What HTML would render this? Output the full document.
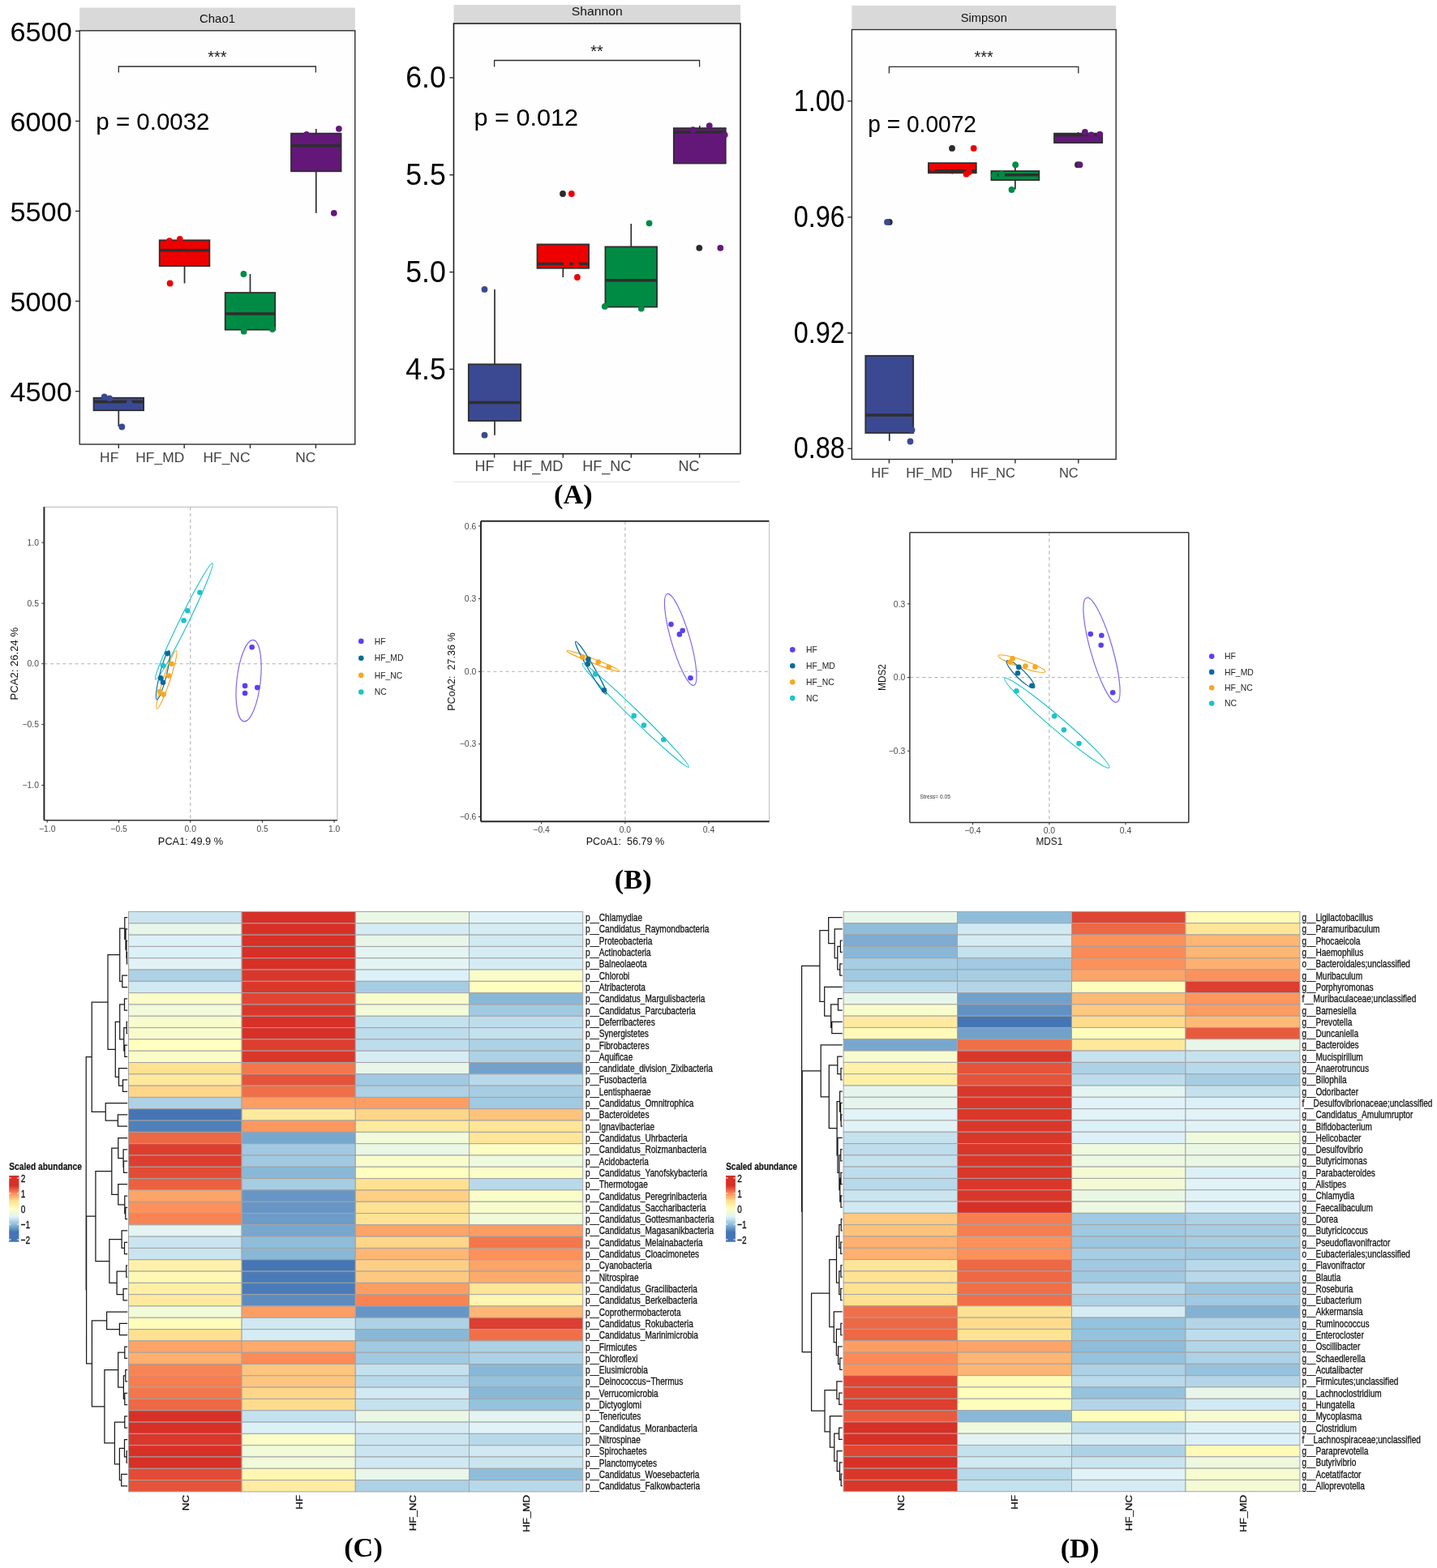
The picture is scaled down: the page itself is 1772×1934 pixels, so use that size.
<!DOCTYPE html>
<html lang="en"><head><meta charset="utf-8"><title>Figure</title>
<style>
html,body{margin:0;padding:0;background:#fff}
body{width:1772px;height:1934px;overflow:hidden}
svg{display:block}
text{font-family:"Liberation Sans",sans-serif;white-space:pre}
text.b{font-weight:bold}
text.s{font-family:"Liberation Serif",serif}
</style></head><body>
<svg width="1772" height="1934" viewBox="0 0 1772 1934">
<rect width="1772" height="1934" fill="#fff"/>
<g>
<rect x="98.2" y="9.5" width="339.6" height="27.7" fill="#d9d9d9"/>
<text transform="translate(268 28.25)" x="-22" font-size="15" textLength="44" lengthAdjust="spacingAndGlyphs" fill="#111">Chao1</text>
<rect x="98.2" y="37.8" width="339.6" height="510.2" fill="#fefefe" stroke="#2e2e2e" stroke-width="1.4"/>
<line x1="93" y1="38.3" x2="98.2" y2="38.3" stroke="#2e2e2e" stroke-width="1.4"/>
<text transform="translate(88.7 50.6)" x="-76.32" font-size="33.8" textLength="76.32" lengthAdjust="spacingAndGlyphs">6500</text>
<line x1="93" y1="149.4" x2="98.2" y2="149.4" stroke="#2e2e2e" stroke-width="1.4"/>
<text transform="translate(88.7 161.7)" x="-76.32" font-size="33.8" textLength="76.32" lengthAdjust="spacingAndGlyphs">6000</text>
<line x1="93" y1="260.4" x2="98.2" y2="260.4" stroke="#2e2e2e" stroke-width="1.4"/>
<text transform="translate(88.7 272.7)" x="-76.32" font-size="33.8" textLength="76.32" lengthAdjust="spacingAndGlyphs">5500</text>
<line x1="93" y1="371.5" x2="98.2" y2="371.5" stroke="#2e2e2e" stroke-width="1.4"/>
<text transform="translate(88.7 383.8)" x="-76.32" font-size="33.8" textLength="76.32" lengthAdjust="spacingAndGlyphs">5000</text>
<line x1="93" y1="482.6" x2="98.2" y2="482.6" stroke="#2e2e2e" stroke-width="1.4"/>
<text transform="translate(88.7 494.9)" x="-76.32" font-size="33.8" textLength="76.32" lengthAdjust="spacingAndGlyphs">4500</text>
<line x1="146.3" y1="548" x2="146.3" y2="553" stroke="#2e2e2e" stroke-width="1.4"/>
<text transform="translate(146.3 570.3)" x="-23.2" font-size="17.4" textLength="23.2" lengthAdjust="spacingAndGlyphs" fill="#424242">HF</text>
<line x1="227.2" y1="548" x2="227.2" y2="553" stroke="#2e2e2e" stroke-width="1.4"/>
<text transform="translate(227.2 570.3)" x="-59.93" font-size="17.4" textLength="59.93" lengthAdjust="spacingAndGlyphs" fill="#424242">HF_MD</text>
<line x1="308.5" y1="548" x2="308.5" y2="553" stroke="#2e2e2e" stroke-width="1.4"/>
<text transform="translate(308.5 570.3)" x="-58" font-size="17.4" textLength="58" lengthAdjust="spacingAndGlyphs" fill="#424242">HF_NC</text>
<line x1="389.4" y1="548" x2="389.4" y2="553" stroke="#2e2e2e" stroke-width="1.4"/>
<text transform="translate(389.4 570.3)" x="-25.13" font-size="17.4" textLength="25.13" lengthAdjust="spacingAndGlyphs" fill="#424242">NC</text>
<path d="M146.3 89.5 V82 H389.4 V89.5" fill="none" stroke="#2e2e2e" stroke-width="1.3"/>
<text transform="translate(267.85 77.2)" x="-11.67" font-size="20" fill="#1a1a1a">***</text>
<text transform="translate(118.3 160.2)" x="0" font-size="29.5" textLength="140.2" lengthAdjust="spacingAndGlyphs">p = 0.0032</text>
<line x1="146.3" y1="506.2" x2="146.3" y2="525.9" stroke="#2e2e2e" stroke-width="1.7"/>
<line x1="227.55" y1="328.1" x2="227.55" y2="349.5" stroke="#2e2e2e" stroke-width="1.7"/>
<line x1="308.5" y1="338" x2="308.5" y2="361" stroke="#2e2e2e" stroke-width="1.7"/>
<line x1="389.8" y1="159" x2="389.8" y2="164.6" stroke="#2e2e2e" stroke-width="1.7"/>
<line x1="389.8" y1="211.3" x2="389.8" y2="262.8" stroke="#2e2e2e" stroke-width="1.7"/>
<rect x="115.5" y="490.7" width="61.6" height="15.5" fill="#3b4992" stroke="#2e2e2e" stroke-width="1.75"/>
<line x1="115.5" y1="495.4" x2="177.1" y2="495.4" stroke="#2e2e2e" stroke-width="3.5"/>
<rect x="196.7" y="296.3" width="61.7" height="31.8" fill="#ee0000" stroke="#2e2e2e" stroke-width="1.75"/>
<line x1="196.7" y1="308.8" x2="258.4" y2="308.8" stroke="#2e2e2e" stroke-width="3.5"/>
<rect x="277.7" y="361" width="61.6" height="45.7" fill="#008b45" stroke="#2e2e2e" stroke-width="1.75"/>
<line x1="277.7" y1="387" x2="339.3" y2="387" stroke="#2e2e2e" stroke-width="3.5"/>
<rect x="359" y="164.6" width="61.6" height="46.7" fill="#631879" stroke="#2e2e2e" stroke-width="1.75"/>
<line x1="359" y1="179.8" x2="420.6" y2="179.8" stroke="#2e2e2e" stroke-width="3.5"/>
<circle cx="128.7" cy="489.3" r="3.9" fill="#3b4992"/>
<circle cx="135.1" cy="491.3" r="3.9" fill="#3b4992"/>
<circle cx="159.5" cy="497.5" r="3.9" fill="#3b4992"/>
<circle cx="150.3" cy="526.5" r="3.9" fill="#3b4992"/>
<circle cx="208.9" cy="297.2" r="3.9" fill="#ee0000"/>
<circle cx="221.8" cy="295" r="3.9" fill="#ee0000"/>
<circle cx="209.6" cy="349.5" r="3.9" fill="#ee0000"/>
<circle cx="300.4" cy="338" r="3.9" fill="#008b45"/>
<circle cx="300.7" cy="408.7" r="3.9" fill="#008b45"/>
<circle cx="335.9" cy="406" r="3.9" fill="#008b45"/>
<circle cx="378" cy="166" r="3.9" fill="#631879"/>
<circle cx="417.9" cy="158.8" r="3.9" fill="#631879"/>
<circle cx="411.8" cy="262.8" r="3.9" fill="#631879"/>
</g>
<g>
<rect x="559.5" y="6" width="353.5" height="22" fill="#d9d9d9"/>
<text transform="translate(736.25 18.9)" x="-31.5" font-size="15" textLength="63" lengthAdjust="spacingAndGlyphs" fill="#111">Shannon</text>
<rect x="559.5" y="29" width="353.5" height="530.7" fill="#fefefe" stroke="#1c1c1c" stroke-width="1.6"/>
<line x1="554.3" y1="95.8" x2="559.5" y2="95.8" stroke="#2e2e2e" stroke-width="1.4"/>
<text transform="translate(549.8 108.1)" x="-49.57" font-size="36.2" textLength="49.57" lengthAdjust="spacingAndGlyphs">6.0</text>
<line x1="554.3" y1="215.7" x2="559.5" y2="215.7" stroke="#2e2e2e" stroke-width="1.4"/>
<text transform="translate(549.8 228)" x="-49.57" font-size="36.2" textLength="49.57" lengthAdjust="spacingAndGlyphs">5.5</text>
<line x1="554.3" y1="335.6" x2="559.5" y2="335.6" stroke="#2e2e2e" stroke-width="1.4"/>
<text transform="translate(549.8 347.9)" x="-49.57" font-size="36.2" textLength="49.57" lengthAdjust="spacingAndGlyphs">5.0</text>
<line x1="554.3" y1="455.4" x2="559.5" y2="455.4" stroke="#2e2e2e" stroke-width="1.4"/>
<text transform="translate(549.8 467.7)" x="-49.57" font-size="36.2" textLength="49.57" lengthAdjust="spacingAndGlyphs">4.5</text>
<line x1="609.6" y1="559.7" x2="609.6" y2="564.7" stroke="#2e2e2e" stroke-width="1.4"/>
<text transform="translate(609.6 581)" x="-23.99" font-size="18" textLength="23.99" lengthAdjust="spacingAndGlyphs" fill="#424242">HF</text>
<line x1="694.3" y1="559.7" x2="694.3" y2="564.7" stroke="#2e2e2e" stroke-width="1.4"/>
<text transform="translate(694.3 581)" x="-62" font-size="18" textLength="62" lengthAdjust="spacingAndGlyphs" fill="#424242">HF_MD</text>
<line x1="778.3" y1="559.7" x2="778.3" y2="564.7" stroke="#2e2e2e" stroke-width="1.4"/>
<text transform="translate(778.3 581)" x="-60" font-size="18" textLength="60" lengthAdjust="spacingAndGlyphs" fill="#424242">HF_NC</text>
<line x1="862.6" y1="559.7" x2="862.6" y2="564.7" stroke="#2e2e2e" stroke-width="1.4"/>
<text transform="translate(862.6 581)" x="-26" font-size="18" textLength="26" lengthAdjust="spacingAndGlyphs" fill="#424242">NC</text>
<path d="M609.6 82.6 V74.5 H862.6 V82.6" fill="none" stroke="#2e2e2e" stroke-width="1.3"/>
<text transform="translate(736.1 70.3)" x="-7.78" font-size="20" fill="#1a1a1a">**</text>
<text transform="translate(584.5 154.7)" x="0" font-size="29.5" textLength="128.6" lengthAdjust="spacingAndGlyphs">p = 0.012</text>
<line x1="610" y1="356.9" x2="610" y2="449.3" stroke="#2e2e2e" stroke-width="1.7"/>
<line x1="610" y1="519.1" x2="610" y2="536.7" stroke="#2e2e2e" stroke-width="1.7"/>
<line x1="694.3" y1="330.8" x2="694.3" y2="342" stroke="#2e2e2e" stroke-width="1.7"/>
<line x1="778.25" y1="276" x2="778.25" y2="304.4" stroke="#2e2e2e" stroke-width="1.7"/>
<line x1="862.8" y1="155" x2="862.8" y2="158.1" stroke="#2e2e2e" stroke-width="1.7"/>
<rect x="577.8" y="449.3" width="64.4" height="69.8" fill="#3b4992" stroke="#2e2e2e" stroke-width="1.75"/>
<line x1="577.8" y1="496.4" x2="642.2" y2="496.4" stroke="#2e2e2e" stroke-width="3.5"/>
<rect x="662.5" y="301.4" width="63.6" height="29.4" fill="#ee0000" stroke="#2e2e2e" stroke-width="1.75"/>
<line x1="662.5" y1="325.4" x2="726.1" y2="325.4" stroke="#2e2e2e" stroke-width="3.5"/>
<rect x="746.4" y="304.4" width="63.7" height="74.2" fill="#008b45" stroke="#2e2e2e" stroke-width="1.75"/>
<line x1="746.4" y1="345.7" x2="810.1" y2="345.7" stroke="#2e2e2e" stroke-width="3.5"/>
<rect x="830.8" y="158.1" width="64" height="43.4" fill="#631879" stroke="#2e2e2e" stroke-width="1.75"/>
<line x1="830.8" y1="162.9" x2="894.8" y2="162.9" stroke="#2e2e2e" stroke-width="3.5"/>
<circle cx="597.5" cy="356.9" r="3.9" fill="#3b4992"/>
<circle cx="597.5" cy="536.7" r="3.9" fill="#3b4992"/>
<circle cx="694" cy="239" r="3.9" fill="#2b2b2b"/>
<circle cx="704.8" cy="239" r="3.9" fill="#ee0000"/>
<circle cx="698.7" cy="325.4" r="3.9" fill="#ee0000"/>
<circle cx="710.6" cy="326.8" r="3.9" fill="#ee0000"/>
<circle cx="711.9" cy="342" r="3.9" fill="#ee0000"/>
<circle cx="800.6" cy="275.3" r="3.9" fill="#008b45"/>
<circle cx="745.8" cy="377.9" r="3.9" fill="#008b45"/>
<circle cx="790.8" cy="380.6" r="3.9" fill="#008b45"/>
<circle cx="854.5" cy="160.2" r="3.9" fill="#631879"/>
<circle cx="874.8" cy="155.1" r="3.9" fill="#631879"/>
<circle cx="893.7" cy="166.3" r="3.9" fill="#631879"/>
<circle cx="862.3" cy="305.8" r="3.9" fill="#2b2b2b"/>
<circle cx="888.3" cy="305.8" r="3.9" fill="#631879"/>
</g>
<g>
<rect x="1050.4" y="6.8" width="325.8" height="28.7" fill="#d9d9d9"/>
<text transform="translate(1213.3 27.35)" x="-28.5" font-size="15" textLength="57" lengthAdjust="spacingAndGlyphs" fill="#111">Simpson</text>
<rect x="1050.4" y="36.5" width="325.8" height="530" fill="#fefefe" stroke="#2e2e2e" stroke-width="1.4"/>
<line x1="1045.2" y1="124.7" x2="1050.4" y2="124.7" stroke="#2e2e2e" stroke-width="1.4"/>
<text transform="translate(1041.8 136.7)" x="-63.06" font-size="36" textLength="63.06" lengthAdjust="spacingAndGlyphs">1.00</text>
<line x1="1045.2" y1="267.9" x2="1050.4" y2="267.9" stroke="#2e2e2e" stroke-width="1.4"/>
<text transform="translate(1041.8 279.9)" x="-63.06" font-size="36" textLength="63.06" lengthAdjust="spacingAndGlyphs">0.96</text>
<line x1="1045.2" y1="410.8" x2="1050.4" y2="410.8" stroke="#2e2e2e" stroke-width="1.4"/>
<text transform="translate(1041.8 422.8)" x="-63.06" font-size="36" textLength="63.06" lengthAdjust="spacingAndGlyphs">0.92</text>
<line x1="1045.2" y1="553.3" x2="1050.4" y2="553.3" stroke="#2e2e2e" stroke-width="1.4"/>
<text transform="translate(1041.8 565.3)" x="-63.06" font-size="36" textLength="63.06" lengthAdjust="spacingAndGlyphs">0.88</text>
<line x1="1096.4" y1="566.5" x2="1096.4" y2="571.5" stroke="#2e2e2e" stroke-width="1.4"/>
<text transform="translate(1096.4 588.8)" x="-22.04" font-size="17.4" textLength="22.04" lengthAdjust="spacingAndGlyphs" fill="#424242">HF</text>
<line x1="1174.3" y1="566.5" x2="1174.3" y2="571.5" stroke="#2e2e2e" stroke-width="1.4"/>
<text transform="translate(1174.3 588.8)" x="-56.94" font-size="17.4" textLength="56.94" lengthAdjust="spacingAndGlyphs" fill="#424242">HF_MD</text>
<line x1="1251.9" y1="566.5" x2="1251.9" y2="571.5" stroke="#2e2e2e" stroke-width="1.4"/>
<text transform="translate(1251.9 588.8)" x="-55.1" font-size="17.4" textLength="55.1" lengthAdjust="spacingAndGlyphs" fill="#424242">HF_NC</text>
<line x1="1329.8" y1="566.5" x2="1329.8" y2="571.5" stroke="#2e2e2e" stroke-width="1.4"/>
<text transform="translate(1329.8 588.8)" x="-23.88" font-size="17.4" textLength="23.88" lengthAdjust="spacingAndGlyphs" fill="#424242">NC</text>
<path d="M1096.4 90.4 V82.3 H1329.8 V90.4" fill="none" stroke="#2e2e2e" stroke-width="1.3"/>
<text transform="translate(1213.1 76.8)" x="-11.67" font-size="20" fill="#1a1a1a">***</text>
<text transform="translate(1070.2 162.5)" x="0" font-size="29.5" textLength="133.8" lengthAdjust="spacingAndGlyphs">p = 0.0072</text>
<line x1="1096.75" y1="534" x2="1096.75" y2="543.8" stroke="#2e2e2e" stroke-width="1.7"/>
<line x1="1174.35" y1="213.3" x2="1174.35" y2="214.5" stroke="#2e2e2e" stroke-width="1.7"/>
<line x1="1251.85" y1="203.2" x2="1251.85" y2="211" stroke="#2e2e2e" stroke-width="1.7"/>
<line x1="1251.85" y1="222.1" x2="1251.85" y2="233.6" stroke="#2e2e2e" stroke-width="1.7"/>
<line x1="1329.6" y1="163" x2="1329.6" y2="164.6" stroke="#2e2e2e" stroke-width="1.7"/>
<rect x="1067.3" y="438.8" width="58.9" height="95.2" fill="#3b4992" stroke="#2e2e2e" stroke-width="1.75"/>
<line x1="1067.3" y1="512" x2="1126.2" y2="512" stroke="#2e2e2e" stroke-width="3.5"/>
<rect x="1144.9" y="201.1" width="58.9" height="12.2" fill="#ee0000" stroke="#2e2e2e" stroke-width="1.75"/>
<line x1="1144.9" y1="210.8" x2="1203.8" y2="210.8" stroke="#2e2e2e" stroke-width="3.5"/>
<rect x="1222.4" y="211" width="58.9" height="11.1" fill="#008b45" stroke="#2e2e2e" stroke-width="1.75"/>
<line x1="1222.4" y1="215.7" x2="1281.3" y2="215.7" stroke="#2e2e2e" stroke-width="3.5"/>
<rect x="1300" y="164.6" width="59.2" height="11.5" fill="#631879" stroke="#2e2e2e" stroke-width="1.75"/>
<line x1="1300" y1="166.6" x2="1359.2" y2="166.6" stroke="#2e2e2e" stroke-width="3.5"/>
<circle cx="1096.8" cy="273.9" r="3.9" fill="#2b2b2b"/>
<circle cx="1094" cy="273.9" r="3.9" fill="#3b4992"/>
<circle cx="1124.5" cy="530.3" r="3.9" fill="#3b4992"/>
<circle cx="1122.5" cy="544.5" r="3.9" fill="#3b4992"/>
<circle cx="1174" cy="182.9" r="3.9" fill="#2b2b2b"/>
<circle cx="1200.7" cy="182.9" r="3.9" fill="#ee0000"/>
<circle cx="1150" cy="207" r="3.9" fill="#ee0000"/>
<circle cx="1191.6" cy="214.7" r="3.9" fill="#ee0000"/>
<circle cx="1194.6" cy="212.3" r="3.9" fill="#ee0000"/>
<circle cx="1252.2" cy="203.2" r="3.9" fill="#008b45"/>
<circle cx="1247.5" cy="234" r="3.9" fill="#008b45"/>
<circle cx="1226.1" cy="216.7" r="3.9" fill="#008b45"/>
<circle cx="1235.3" cy="214.7" r="3.9" fill="#008b45"/>
<circle cx="1337.9" cy="162.9" r="3.9" fill="#631879"/>
<circle cx="1345.7" cy="166.3" r="3.9" fill="#631879"/>
<circle cx="1356.2" cy="165.6" r="3.9" fill="#631879"/>
<circle cx="1329" cy="203.2" r="3.9" fill="#2b2b2b"/>
<circle cx="1331.5" cy="203.2" r="3.9" fill="#631879"/>
</g>
<line x1="559.5" y1="594.3" x2="913" y2="594.3" stroke="#e6e6e6" stroke-width="1.2"/>
<text transform="translate(706.8 620.7)" x="-23.81" font-size="34.3" class="b s">(A)</text>
<g>
<line x1="54.4" y1="818.7" x2="415.9" y2="818.7" stroke="#b3b3b3" stroke-width="1.1" stroke-dasharray="4.2 3.4"/>
<line x1="234.8" y1="625.3" x2="234.8" y2="1011.8" stroke="#b3b3b3" stroke-width="1.1" stroke-dasharray="4.2 3.4"/>
<line x1="54.4" y1="625.3" x2="415.9" y2="625.3" stroke="#c4c4c4" stroke-width="1.2"/>
<line x1="415.9" y1="625.3" x2="415.9" y2="1011.8" stroke="#c4c4c4" stroke-width="1.2"/>
<line x1="54.4" y1="1011.8" x2="415.9" y2="1011.8" stroke="#333333" stroke-width="1.5"/>
<line x1="54.4" y1="625.3" x2="54.4" y2="1011.8" stroke="#2a2a2a" stroke-width="2"/>
<line x1="51.4" y1="669.2" x2="54.4" y2="669.2" stroke="#2e2e2e" stroke-width="1"/>
<text transform="translate(48 672.9)" x="-14.46" font-size="10.4" fill="#4d4d4d">1.0</text>
<line x1="51.4" y1="744.1" x2="54.4" y2="744.1" stroke="#2e2e2e" stroke-width="1"/>
<text transform="translate(48 747.8)" x="-14.46" font-size="10.4" fill="#4d4d4d">0.5</text>
<line x1="51.4" y1="818.7" x2="54.4" y2="818.7" stroke="#2e2e2e" stroke-width="1"/>
<text transform="translate(48 822.4)" x="-14.46" font-size="10.4" fill="#4d4d4d">0.0</text>
<line x1="51.4" y1="893.6" x2="54.4" y2="893.6" stroke="#2e2e2e" stroke-width="1"/>
<text transform="translate(48 897.3)" x="-20.53" font-size="10.4" fill="#4d4d4d">−0.5</text>
<line x1="51.4" y1="968.5" x2="54.4" y2="968.5" stroke="#2e2e2e" stroke-width="1"/>
<text transform="translate(48 972.2)" x="-20.53" font-size="10.4" fill="#4d4d4d">−1.0</text>
<line x1="58.2" y1="1011.8" x2="58.2" y2="1014.8" stroke="#2e2e2e" stroke-width="1"/>
<text transform="translate(58.2 1026.3)" x="-10.27" font-size="10.4" fill="#4d4d4d">−1.0</text>
<line x1="146.6" y1="1011.8" x2="146.6" y2="1014.8" stroke="#2e2e2e" stroke-width="1"/>
<text transform="translate(146.6 1026.3)" x="-10.27" font-size="10.4" fill="#4d4d4d">−0.5</text>
<line x1="234.8" y1="1011.8" x2="234.8" y2="1014.8" stroke="#2e2e2e" stroke-width="1"/>
<text transform="translate(234.8 1026.3)" x="-7.23" font-size="10.4" fill="#4d4d4d">0.0</text>
<line x1="323.6" y1="1011.8" x2="323.6" y2="1014.8" stroke="#2e2e2e" stroke-width="1"/>
<text transform="translate(323.6 1026.3)" x="-7.23" font-size="10.4" fill="#4d4d4d">0.5</text>
<line x1="412.1" y1="1011.8" x2="412.1" y2="1014.8" stroke="#2e2e2e" stroke-width="1"/>
<text transform="translate(412.1 1026.3)" x="-7.23" font-size="10.4" fill="#4d4d4d">1.0</text>
<text transform="translate(235 1041.6)" x="-40.15" font-size="12.8" textLength="80.3" lengthAdjust="spacingAndGlyphs" fill="#111">PCA1: 49.9 %</text>
<text transform="translate(21.9 818.7) rotate(-90)" x="-44.7" font-size="12.8" textLength="89.4" lengthAdjust="spacingAndGlyphs" fill="#111">PCA2: 26.24 %</text>
<ellipse cx="0" cy="0" rx="79.7" ry="5.5" transform="translate(226.9 766.4) rotate(-63.9)" fill="none" stroke="#1fc2c9" stroke-width="1.15"/>
<ellipse cx="0" cy="0" rx="50.5" ry="14.6" transform="translate(306.6 839.6) rotate(-83.5)" fill="none" stroke="#7a63f2" stroke-width="1.15"/>
<ellipse cx="0" cy="0" rx="37.8" ry="4.2" transform="translate(205.4 838.4) rotate(-71.5)" fill="none" stroke="#f6a823" stroke-width="1.15"/>
<ellipse cx="0" cy="0" rx="31.1" ry="4.2" transform="translate(201 832.8) rotate(-75.9)" fill="none" stroke="#0b6b9a" stroke-width="1.15"/>
<circle cx="246.5" cy="730.8" r="3.3" fill="#1fc2c9"/>
<circle cx="231.3" cy="753.3" r="3.3" fill="#1fc2c9"/>
<circle cx="226.6" cy="765.3" r="3.3" fill="#1fc2c9"/>
<circle cx="201" cy="820.9" r="3.3" fill="#1fc2c9"/>
<circle cx="211.4" cy="818.7" r="3.3" fill="#f6a823"/>
<circle cx="208" cy="833.5" r="3.3" fill="#f6a823"/>
<circle cx="197.2" cy="853.1" r="3.3" fill="#f6a823"/>
<circle cx="201.6" cy="856.6" r="3.3" fill="#f6a823"/>
<circle cx="206.4" cy="806.1" r="3.3" fill="#0b6b9a"/>
<circle cx="198.2" cy="836.4" r="3.3" fill="#0b6b9a"/>
<circle cx="201" cy="841.8" r="3.3" fill="#0b6b9a"/>
<circle cx="310.7" cy="798.2" r="3.3" fill="#5b3ff0"/>
<circle cx="302.1" cy="845.9" r="3.3" fill="#5b3ff0"/>
<circle cx="317.3" cy="848.1" r="3.3" fill="#5b3ff0"/>
<circle cx="302.1" cy="855" r="3.3" fill="#5b3ff0"/>
<circle cx="445.3" cy="790.9" r="3.3" fill="#5b3ff0"/>
<text transform="translate(461.7 794.6)" x="0" font-size="10.4" fill="#222">HF</text>
<circle cx="445.3" cy="811.7" r="3.3" fill="#0b6b9a"/>
<text transform="translate(461.7 815.4)" x="0" font-size="10.4" fill="#222">HF_MD</text>
<circle cx="445.3" cy="832.9" r="3.3" fill="#f6a823"/>
<text transform="translate(461.7 836.6)" x="0" font-size="10.4" fill="#222">HF_NC</text>
<circle cx="445.3" cy="853.5" r="3.3" fill="#1fc2c9"/>
<text transform="translate(461.7 857.2)" x="0" font-size="10.4" fill="#222">NC</text>
</g>
<g>
<line x1="593" y1="828.3" x2="948.6" y2="828.3" stroke="#b3b3b3" stroke-width="1.1" stroke-dasharray="4.2 3.4"/>
<line x1="770.9" y1="642.8" x2="770.9" y2="1013.2" stroke="#b3b3b3" stroke-width="1.1" stroke-dasharray="4.2 3.4"/>
<line x1="593" y1="642.8" x2="948.6" y2="642.8" stroke="#2a2a2a" stroke-width="2"/>
<line x1="948.6" y1="642.8" x2="948.6" y2="1013.2" stroke="#c4c4c4" stroke-width="1.2"/>
<line x1="593" y1="1013.2" x2="948.6" y2="1013.2" stroke="#2a2a2a" stroke-width="2"/>
<line x1="593" y1="642.8" x2="593" y2="1013.2" stroke="#2a2a2a" stroke-width="2"/>
<line x1="590" y1="648.8" x2="593" y2="648.8" stroke="#2e2e2e" stroke-width="1"/>
<text transform="translate(587.3 652.5)" x="-14.46" font-size="10.4" fill="#4d4d4d">0.6</text>
<line x1="590" y1="738.5" x2="593" y2="738.5" stroke="#2e2e2e" stroke-width="1"/>
<text transform="translate(587.3 742.2)" x="-14.46" font-size="10.4" fill="#4d4d4d">0.3</text>
<line x1="590" y1="828.3" x2="593" y2="828.3" stroke="#2e2e2e" stroke-width="1"/>
<text transform="translate(587.3 832)" x="-14.46" font-size="10.4" fill="#4d4d4d">0.0</text>
<line x1="590" y1="917.7" x2="593" y2="917.7" stroke="#2e2e2e" stroke-width="1"/>
<text transform="translate(587.3 921.4)" x="-20.53" font-size="10.4" fill="#4d4d4d">−0.3</text>
<line x1="590" y1="1007.5" x2="593" y2="1007.5" stroke="#2e2e2e" stroke-width="1"/>
<text transform="translate(587.3 1011.2)" x="-20.53" font-size="10.4" fill="#4d4d4d">−0.6</text>
<line x1="667.6" y1="1013.2" x2="667.6" y2="1016.2" stroke="#2e2e2e" stroke-width="1"/>
<text transform="translate(667.6 1027.4)" x="-10.27" font-size="10.4" fill="#4d4d4d">−0.4</text>
<line x1="770.9" y1="1013.2" x2="770.9" y2="1016.2" stroke="#2e2e2e" stroke-width="1"/>
<text transform="translate(770.9 1027.4)" x="-7.23" font-size="10.4" fill="#4d4d4d">0.0</text>
<line x1="874" y1="1013.2" x2="874" y2="1016.2" stroke="#2e2e2e" stroke-width="1"/>
<text transform="translate(874 1027.4)" x="-7.23" font-size="10.4" fill="#4d4d4d">0.4</text>
<text transform="translate(770.9 1041.8)" x="-48.2" font-size="12.8" textLength="96.4" lengthAdjust="spacingAndGlyphs" fill="#111">PCoA1:  56.79 %</text>
<text transform="translate(561.2 828.6) rotate(-90)" x="-48.2" font-size="12.8" textLength="96.4" lengthAdjust="spacingAndGlyphs" fill="#111">PCoA2:  27.36 %</text>
<ellipse cx="0" cy="0" rx="58.7" ry="11.5" transform="translate(839.2 788.9) rotate(73.8)" fill="none" stroke="#7a63f2" stroke-width="1.15"/>
<ellipse cx="0" cy="0" rx="91.5" ry="5.6" transform="translate(783.7 882.3) rotate(44.2)" fill="none" stroke="#1fc2c9" stroke-width="1.15"/>
<ellipse cx="0" cy="0" rx="34.7" ry="2.6" transform="translate(731.3 815.2) rotate(21)" fill="none" stroke="#f6a823" stroke-width="1.15"/>
<ellipse cx="0" cy="0" rx="37.5" ry="3.6" transform="translate(728.7 823.7) rotate(59.8)" fill="none" stroke="#0b6b9a" stroke-width="1.15"/>
<circle cx="734.3" cy="831.4" r="3.3" fill="#1fc2c9"/>
<circle cx="781.7" cy="882.9" r="3.3" fill="#1fc2c9"/>
<circle cx="794" cy="894.6" r="3.3" fill="#1fc2c9"/>
<circle cx="818.3" cy="912.3" r="3.3" fill="#1fc2c9"/>
<circle cx="718.2" cy="810.6" r="3.3" fill="#f6a823"/>
<circle cx="737.7" cy="816.6" r="3.3" fill="#f6a823"/>
<circle cx="750.7" cy="822.9" r="3.3" fill="#f6a823"/>
<circle cx="725.4" cy="813.1" r="3.3" fill="#0b6b9a"/>
<circle cx="724.8" cy="819.1" r="3.3" fill="#0b6b9a"/>
<circle cx="745" cy="851.3" r="3.3" fill="#0b6b9a"/>
<circle cx="827.5" cy="770.1" r="3.3" fill="#5b3ff0"/>
<circle cx="841.7" cy="777.7" r="3.3" fill="#5b3ff0"/>
<circle cx="837.9" cy="782.4" r="3.3" fill="#5b3ff0"/>
<circle cx="851.5" cy="836.2" r="3.3" fill="#5b3ff0"/>
<circle cx="977.3" cy="801.4" r="3.3" fill="#5b3ff0"/>
<text transform="translate(994 805.1)" x="0" font-size="10.4" fill="#222">HF</text>
<circle cx="977.3" cy="821.3" r="3.3" fill="#0b6b9a"/>
<text transform="translate(994 825)" x="0" font-size="10.4" fill="#222">HF_MD</text>
<circle cx="977.3" cy="841.2" r="3.3" fill="#f6a823"/>
<text transform="translate(994 844.9)" x="0" font-size="10.4" fill="#222">HF_NC</text>
<circle cx="977.3" cy="861.1" r="3.3" fill="#1fc2c9"/>
<text transform="translate(994 864.8)" x="0" font-size="10.4" fill="#222">NC</text>
</g>
<g>
<line x1="1121.9" y1="835.5" x2="1465.8" y2="835.5" stroke="#b3b3b3" stroke-width="1.1" stroke-dasharray="4.2 3.4"/>
<line x1="1293.9" y1="656.7" x2="1293.9" y2="1014.4" stroke="#b3b3b3" stroke-width="1.1" stroke-dasharray="4.2 3.4"/>
<line x1="1121.9" y1="656.7" x2="1465.8" y2="656.7" stroke="#333333" stroke-width="1.5"/>
<line x1="1465.8" y1="656.7" x2="1465.8" y2="1014.4" stroke="#333333" stroke-width="1.5"/>
<line x1="1121.9" y1="1014.4" x2="1465.8" y2="1014.4" stroke="#333333" stroke-width="1.5"/>
<line x1="1121.9" y1="656.7" x2="1121.9" y2="1014.4" stroke="#333333" stroke-width="1.5"/>
<line x1="1118.9" y1="744.8" x2="1121.9" y2="744.8" stroke="#2e2e2e" stroke-width="1"/>
<text transform="translate(1116.3 748.5)" x="-14.46" font-size="10.4" fill="#4d4d4d">0.3</text>
<line x1="1118.9" y1="835.5" x2="1121.9" y2="835.5" stroke="#2e2e2e" stroke-width="1"/>
<text transform="translate(1116.3 839.2)" x="-14.46" font-size="10.4" fill="#4d4d4d">0.0</text>
<line x1="1118.9" y1="926.2" x2="1121.9" y2="926.2" stroke="#2e2e2e" stroke-width="1"/>
<text transform="translate(1116.3 929.9)" x="-20.53" font-size="10.4" fill="#4d4d4d">−0.3</text>
<line x1="1199.4" y1="1014.4" x2="1199.4" y2="1017.4" stroke="#2e2e2e" stroke-width="1"/>
<text transform="translate(1199.4 1027.7)" x="-10.27" font-size="10.4" fill="#4d4d4d">−0.4</text>
<line x1="1293.9" y1="1014.4" x2="1293.9" y2="1017.4" stroke="#2e2e2e" stroke-width="1"/>
<text transform="translate(1293.9 1027.7)" x="-7.23" font-size="10.4" fill="#4d4d4d">0.0</text>
<line x1="1388" y1="1014.4" x2="1388" y2="1017.4" stroke="#2e2e2e" stroke-width="1"/>
<text transform="translate(1388 1027.7)" x="-7.23" font-size="10.4" fill="#4d4d4d">0.4</text>
<text transform="translate(1293.9 1042.4)" x="-16.45" font-size="12.8" textLength="32.9" lengthAdjust="spacingAndGlyphs" fill="#111">MDS1</text>
<text transform="translate(1091.5 835.5) rotate(-90)" x="-16.45" font-size="12.8" textLength="32.9" lengthAdjust="spacingAndGlyphs" fill="#111">MDS2</text>
<ellipse cx="0" cy="0" rx="67" ry="13.5" transform="translate(1358.5 801.7) rotate(74)" fill="none" stroke="#7a63f2" stroke-width="1.15"/>
<ellipse cx="0" cy="0" rx="84.7" ry="8" transform="translate(1303.4 891.8) rotate(40.5)" fill="none" stroke="#1fc2c9" stroke-width="1.15"/>
<ellipse cx="0" cy="0" rx="30.6" ry="4.6" transform="translate(1259.9 818.6) rotate(19)" fill="none" stroke="#f6a823" stroke-width="1.15"/>
<ellipse cx="0" cy="0" rx="23.7" ry="5.5" transform="translate(1258.6 831.6) rotate(44.5)" fill="none" stroke="#0b6b9a" stroke-width="1.15"/>
<circle cx="1253.4" cy="852.3" r="3.3" fill="#1fc2c9"/>
<circle cx="1300.2" cy="883.3" r="3.3" fill="#1fc2c9"/>
<circle cx="1311.9" cy="900.3" r="3.3" fill="#1fc2c9"/>
<circle cx="1330.5" cy="917.1" r="3.3" fill="#1fc2c9"/>
<circle cx="1248.7" cy="812.2" r="3.3" fill="#f6a823"/>
<circle cx="1245.8" cy="816.6" r="3.3" fill="#f6a823"/>
<circle cx="1264.5" cy="821.6" r="3.3" fill="#f6a823"/>
<circle cx="1276.5" cy="822.6" r="3.3" fill="#f6a823"/>
<circle cx="1256.3" cy="822.9" r="3.3" fill="#0b6b9a"/>
<circle cx="1255" cy="830.2" r="3.3" fill="#0b6b9a"/>
<circle cx="1272.4" cy="845.7" r="3.3" fill="#0b6b9a"/>
<circle cx="1344.8" cy="782.1" r="3.3" fill="#5b3ff0"/>
<circle cx="1358.3" cy="783.7" r="3.3" fill="#5b3ff0"/>
<circle cx="1357.7" cy="795.7" r="3.3" fill="#5b3ff0"/>
<circle cx="1372.2" cy="854.2" r="3.3" fill="#5b3ff0"/>
<circle cx="1494.2" cy="809.6" r="3.3" fill="#5b3ff0"/>
<text transform="translate(1510 813.3)" x="0" font-size="10.4" fill="#222">HF</text>
<circle cx="1494.2" cy="828.9" r="3.3" fill="#0b6b9a"/>
<text transform="translate(1510 832.6)" x="0" font-size="10.4" fill="#222">HF_MD</text>
<circle cx="1494.2" cy="848.2" r="3.3" fill="#f6a823"/>
<text transform="translate(1510 851.9)" x="0" font-size="10.4" fill="#222">HF_NC</text>
<circle cx="1494.2" cy="867.5" r="3.3" fill="#1fc2c9"/>
<text transform="translate(1510 871.2)" x="0" font-size="10.4" fill="#222">NC</text>
<text transform="translate(1134.6 985)" x="0" font-size="6.8" textLength="37.3" lengthAdjust="spacingAndGlyphs" fill="#333">Stress= 0.05</text>
</g>
<text transform="translate(780.7 1095.6)" x="-22.86" font-size="34.3" class="b s">(B)</text>
<g>
<g stroke="#a3a3a3" stroke-width="1">
<rect x="158.5" y="1124.5" width="139.6" height="14.31" fill="#cae5f0"/>
<rect x="298.1" y="1124.5" width="140.2" height="14.31" fill="#d73027"/>
<rect x="438.3" y="1124.5" width="140.2" height="14.31" fill="#eaf7e5"/>
<rect x="578.5" y="1124.5" width="140.2" height="14.31" fill="#e0f3f8"/>
<rect x="158.5" y="1138.81" width="139.6" height="14.31" fill="#e8f6ea"/>
<rect x="298.1" y="1138.81" width="140.2" height="14.31" fill="#d73027"/>
<rect x="438.3" y="1138.81" width="140.2" height="14.31" fill="#d6ecf4"/>
<rect x="578.5" y="1138.81" width="140.2" height="14.31" fill="#d6ecf4"/>
<rect x="158.5" y="1153.12" width="139.6" height="14.31" fill="#dcf0f7"/>
<rect x="298.1" y="1153.12" width="140.2" height="14.31" fill="#d73027"/>
<rect x="438.3" y="1153.12" width="140.2" height="14.31" fill="#e8f6ea"/>
<rect x="578.5" y="1153.12" width="140.2" height="14.31" fill="#d0e9f2"/>
<rect x="158.5" y="1167.42" width="139.6" height="14.31" fill="#dcf0f7"/>
<rect x="298.1" y="1167.42" width="140.2" height="14.31" fill="#d73027"/>
<rect x="438.3" y="1167.42" width="140.2" height="14.31" fill="#e3f4f2"/>
<rect x="578.5" y="1167.42" width="140.2" height="14.31" fill="#d6ecf4"/>
<rect x="158.5" y="1181.73" width="139.6" height="14.31" fill="#e1f3f7"/>
<rect x="298.1" y="1181.73" width="140.2" height="14.31" fill="#d73027"/>
<rect x="438.3" y="1181.73" width="140.2" height="14.31" fill="#e3f4f2"/>
<rect x="578.5" y="1181.73" width="140.2" height="14.31" fill="#d6ecf4"/>
<rect x="158.5" y="1196.04" width="139.6" height="14.31" fill="#add1e5"/>
<rect x="298.1" y="1196.04" width="140.2" height="14.31" fill="#da372b"/>
<rect x="438.3" y="1196.04" width="140.2" height="14.31" fill="#dcf0f7"/>
<rect x="578.5" y="1196.04" width="140.2" height="14.31" fill="#fafdc8"/>
<rect x="158.5" y="1210.35" width="139.6" height="14.31" fill="#d0e9f2"/>
<rect x="298.1" y="1210.35" width="140.2" height="14.31" fill="#da372b"/>
<rect x="438.3" y="1210.35" width="140.2" height="14.31" fill="#a7cde3"/>
<rect x="578.5" y="1210.35" width="140.2" height="14.31" fill="#ffffbf"/>
<rect x="158.5" y="1224.66" width="139.6" height="14.31" fill="#fafdc8"/>
<rect x="298.1" y="1224.66" width="140.2" height="14.31" fill="#df4532"/>
<rect x="438.3" y="1224.66" width="140.2" height="14.31" fill="#f8fccc"/>
<rect x="578.5" y="1224.66" width="140.2" height="14.31" fill="#89b8d7"/>
<rect x="158.5" y="1238.96" width="139.6" height="14.31" fill="#f1fad9"/>
<rect x="298.1" y="1238.96" width="140.2" height="14.31" fill="#da372b"/>
<rect x="438.3" y="1238.96" width="140.2" height="14.31" fill="#f1fad9"/>
<rect x="578.5" y="1238.96" width="140.2" height="14.31" fill="#a1c9e1"/>
<rect x="158.5" y="1253.27" width="139.6" height="14.31" fill="#f8fccc"/>
<rect x="298.1" y="1253.27" width="140.2" height="14.31" fill="#d73027"/>
<rect x="438.3" y="1253.27" width="140.2" height="14.31" fill="#c4e1ee"/>
<rect x="578.5" y="1253.27" width="140.2" height="14.31" fill="#beddec"/>
<rect x="158.5" y="1267.58" width="139.6" height="14.31" fill="#f8fccc"/>
<rect x="298.1" y="1267.58" width="140.2" height="14.31" fill="#d73027"/>
<rect x="438.3" y="1267.58" width="140.2" height="14.31" fill="#beddec"/>
<rect x="578.5" y="1267.58" width="140.2" height="14.31" fill="#c4e1ee"/>
<rect x="158.5" y="1281.89" width="139.6" height="14.31" fill="#ffffbf"/>
<rect x="298.1" y="1281.89" width="140.2" height="14.31" fill="#dd3e2f"/>
<rect x="438.3" y="1281.89" width="140.2" height="14.31" fill="#beddec"/>
<rect x="578.5" y="1281.89" width="140.2" height="14.31" fill="#add1e5"/>
<rect x="158.5" y="1296.2" width="139.6" height="14.31" fill="#fafdc8"/>
<rect x="298.1" y="1296.2" width="140.2" height="14.31" fill="#da372b"/>
<rect x="438.3" y="1296.2" width="140.2" height="14.31" fill="#d6ecf4"/>
<rect x="578.5" y="1296.2" width="140.2" height="14.31" fill="#add1e5"/>
<rect x="158.5" y="1310.5" width="139.6" height="14.31" fill="#fee191"/>
<rect x="298.1" y="1310.5" width="140.2" height="14.31" fill="#f3764c"/>
<rect x="438.3" y="1310.5" width="140.2" height="14.31" fill="#e8f6ea"/>
<rect x="578.5" y="1310.5" width="140.2" height="14.31" fill="#73a1cb"/>
<rect x="158.5" y="1324.81" width="139.6" height="14.31" fill="#fee89c"/>
<rect x="298.1" y="1324.81" width="140.2" height="14.31" fill="#e5533a"/>
<rect x="438.3" y="1324.81" width="140.2" height="14.31" fill="#a1c9e1"/>
<rect x="578.5" y="1324.81" width="140.2" height="14.31" fill="#b8d9ea"/>
<rect x="158.5" y="1339.12" width="139.6" height="14.31" fill="#fed689"/>
<rect x="298.1" y="1339.12" width="140.2" height="14.31" fill="#f06f49"/>
<rect x="438.3" y="1339.12" width="140.2" height="14.31" fill="#add1e5"/>
<rect x="578.5" y="1339.12" width="140.2" height="14.31" fill="#a7cde3"/>
<rect x="158.5" y="1353.43" width="139.6" height="14.31" fill="#add1e5"/>
<rect x="298.1" y="1353.43" width="140.2" height="14.31" fill="#fc9e64"/>
<rect x="438.3" y="1353.43" width="140.2" height="14.31" fill="#fc9e64"/>
<rect x="578.5" y="1353.43" width="140.2" height="14.31" fill="#a1c9e1"/>
<rect x="158.5" y="1367.74" width="139.6" height="14.31" fill="#4575b4"/>
<rect x="298.1" y="1367.74" width="140.2" height="14.31" fill="#feea9f"/>
<rect x="438.3" y="1367.74" width="140.2" height="14.31" fill="#fed689"/>
<rect x="578.5" y="1367.74" width="140.2" height="14.31" fill="#fdc37d"/>
<rect x="158.5" y="1382.04" width="139.6" height="14.31" fill="#5080ba"/>
<rect x="298.1" y="1382.04" width="140.2" height="14.31" fill="#fc9760"/>
<rect x="438.3" y="1382.04" width="140.2" height="14.31" fill="#feea9f"/>
<rect x="578.5" y="1382.04" width="140.2" height="14.31" fill="#fee598"/>
<rect x="158.5" y="1396.35" width="139.6" height="14.31" fill="#ed6845"/>
<rect x="298.1" y="1396.35" width="140.2" height="14.31" fill="#78a7ce"/>
<rect x="438.3" y="1396.35" width="140.2" height="14.31" fill="#f1fad9"/>
<rect x="578.5" y="1396.35" width="140.2" height="14.31" fill="#fee598"/>
<rect x="158.5" y="1410.66" width="139.6" height="14.31" fill="#dd3e2f"/>
<rect x="298.1" y="1410.66" width="140.2" height="14.31" fill="#a1c9e1"/>
<rect x="438.3" y="1410.66" width="140.2" height="14.31" fill="#eaf7e5"/>
<rect x="578.5" y="1410.66" width="140.2" height="14.31" fill="#fdfec3"/>
<rect x="158.5" y="1424.97" width="139.6" height="14.31" fill="#dd3e2f"/>
<rect x="298.1" y="1424.97" width="140.2" height="14.31" fill="#a1c9e1"/>
<rect x="438.3" y="1424.97" width="140.2" height="14.31" fill="#f8fccc"/>
<rect x="578.5" y="1424.97" width="140.2" height="14.31" fill="#eff9dd"/>
<rect x="158.5" y="1439.28" width="139.6" height="14.31" fill="#e24c36"/>
<rect x="298.1" y="1439.28" width="140.2" height="14.31" fill="#89b8d7"/>
<rect x="438.3" y="1439.28" width="140.2" height="14.31" fill="#ffffbf"/>
<rect x="578.5" y="1439.28" width="140.2" height="14.31" fill="#fafdc8"/>
<rect x="158.5" y="1453.58" width="139.6" height="14.31" fill="#ea6141"/>
<rect x="298.1" y="1453.58" width="140.2" height="14.31" fill="#a7cde3"/>
<rect x="438.3" y="1453.58" width="140.2" height="14.31" fill="#fee191"/>
<rect x="578.5" y="1453.58" width="140.2" height="14.31" fill="#b8d9ea"/>
<rect x="158.5" y="1467.89" width="139.6" height="14.31" fill="#fda468"/>
<rect x="298.1" y="1467.89" width="140.2" height="14.31" fill="#6796c6"/>
<rect x="438.3" y="1467.89" width="140.2" height="14.31" fill="#fecf85"/>
<rect x="578.5" y="1467.89" width="140.2" height="14.31" fill="#fafdc8"/>
<rect x="158.5" y="1482.2" width="139.6" height="14.31" fill="#fc915c"/>
<rect x="298.1" y="1482.2" width="140.2" height="14.31" fill="#6796c6"/>
<rect x="438.3" y="1482.2" width="140.2" height="14.31" fill="#fee191"/>
<rect x="578.5" y="1482.2" width="140.2" height="14.31" fill="#f8fccc"/>
<rect x="158.5" y="1496.51" width="139.6" height="14.31" fill="#f88454"/>
<rect x="298.1" y="1496.51" width="140.2" height="14.31" fill="#6d9cc8"/>
<rect x="438.3" y="1496.51" width="140.2" height="14.31" fill="#fee395"/>
<rect x="578.5" y="1496.51" width="140.2" height="14.31" fill="#f1fad9"/>
<rect x="158.5" y="1510.82" width="139.6" height="14.31" fill="#e3f4f2"/>
<rect x="298.1" y="1510.82" width="140.2" height="14.31" fill="#78a7ce"/>
<rect x="438.3" y="1510.82" width="140.2" height="14.31" fill="#fda468"/>
<rect x="578.5" y="1510.82" width="140.2" height="14.31" fill="#fc9e64"/>
<rect x="158.5" y="1525.12" width="139.6" height="14.31" fill="#cae5f0"/>
<rect x="298.1" y="1525.12" width="140.2" height="14.31" fill="#8fbdda"/>
<rect x="438.3" y="1525.12" width="140.2" height="14.31" fill="#fed689"/>
<rect x="578.5" y="1525.12" width="140.2" height="14.31" fill="#f3764c"/>
<rect x="158.5" y="1539.43" width="139.6" height="14.31" fill="#cae5f0"/>
<rect x="298.1" y="1539.43" width="140.2" height="14.31" fill="#89b8d7"/>
<rect x="438.3" y="1539.43" width="140.2" height="14.31" fill="#fdb674"/>
<rect x="578.5" y="1539.43" width="140.2" height="14.31" fill="#fc915c"/>
<rect x="158.5" y="1553.74" width="139.6" height="14.31" fill="#fff1aa"/>
<rect x="298.1" y="1553.74" width="140.2" height="14.31" fill="#4575b4"/>
<rect x="438.3" y="1553.74" width="140.2" height="14.31" fill="#fecf85"/>
<rect x="578.5" y="1553.74" width="140.2" height="14.31" fill="#fda468"/>
<rect x="158.5" y="1568.05" width="139.6" height="14.31" fill="#fff8b4"/>
<rect x="298.1" y="1568.05" width="140.2" height="14.31" fill="#4b7bb7"/>
<rect x="438.3" y="1568.05" width="140.2" height="14.31" fill="#fdc981"/>
<rect x="578.5" y="1568.05" width="140.2" height="14.31" fill="#fdaa6c"/>
<rect x="158.5" y="1582.36" width="139.6" height="14.31" fill="#feefa6"/>
<rect x="298.1" y="1582.36" width="140.2" height="14.31" fill="#4b7bb7"/>
<rect x="438.3" y="1582.36" width="140.2" height="14.31" fill="#fc9e64"/>
<rect x="578.5" y="1582.36" width="140.2" height="14.31" fill="#fee598"/>
<rect x="158.5" y="1596.66" width="139.6" height="14.31" fill="#feea9f"/>
<rect x="298.1" y="1596.66" width="140.2" height="14.31" fill="#5c8bc0"/>
<rect x="438.3" y="1596.66" width="140.2" height="14.31" fill="#f88454"/>
<rect x="578.5" y="1596.66" width="140.2" height="14.31" fill="#fff6b1"/>
<rect x="158.5" y="1610.97" width="139.6" height="14.31" fill="#f1fad9"/>
<rect x="298.1" y="1610.97" width="140.2" height="14.31" fill="#fc9e64"/>
<rect x="438.3" y="1610.97" width="140.2" height="14.31" fill="#6796c6"/>
<rect x="578.5" y="1610.97" width="140.2" height="14.31" fill="#fdb674"/>
<rect x="158.5" y="1625.28" width="139.6" height="14.31" fill="#fffdbb"/>
<rect x="298.1" y="1625.28" width="140.2" height="14.31" fill="#d0e9f2"/>
<rect x="438.3" y="1625.28" width="140.2" height="14.31" fill="#add1e5"/>
<rect x="578.5" y="1625.28" width="140.2" height="14.31" fill="#dd3e2f"/>
<rect x="158.5" y="1639.59" width="139.6" height="14.31" fill="#fee191"/>
<rect x="298.1" y="1639.59" width="140.2" height="14.31" fill="#d6ecf4"/>
<rect x="438.3" y="1639.59" width="140.2" height="14.31" fill="#89b8d7"/>
<rect x="578.5" y="1639.59" width="140.2" height="14.31" fill="#f06f49"/>
<rect x="158.5" y="1653.9" width="139.6" height="14.31" fill="#fda468"/>
<rect x="298.1" y="1653.9" width="140.2" height="14.31" fill="#fdaa6c"/>
<rect x="438.3" y="1653.9" width="140.2" height="14.31" fill="#a1c9e1"/>
<rect x="578.5" y="1653.9" width="140.2" height="14.31" fill="#add1e5"/>
<rect x="158.5" y="1668.2" width="139.6" height="14.31" fill="#fdb070"/>
<rect x="298.1" y="1668.2" width="140.2" height="14.31" fill="#fb8b58"/>
<rect x="438.3" y="1668.2" width="140.2" height="14.31" fill="#a1c9e1"/>
<rect x="578.5" y="1668.2" width="140.2" height="14.31" fill="#add1e5"/>
<rect x="158.5" y="1682.51" width="139.6" height="14.31" fill="#f88454"/>
<rect x="298.1" y="1682.51" width="140.2" height="14.31" fill="#fdc57e"/>
<rect x="438.3" y="1682.51" width="140.2" height="14.31" fill="#c4e1ee"/>
<rect x="578.5" y="1682.51" width="140.2" height="14.31" fill="#89b8d7"/>
<rect x="158.5" y="1696.82" width="139.6" height="14.31" fill="#f67d50"/>
<rect x="298.1" y="1696.82" width="140.2" height="14.31" fill="#fdc57e"/>
<rect x="438.3" y="1696.82" width="140.2" height="14.31" fill="#b8d9ea"/>
<rect x="578.5" y="1696.82" width="140.2" height="14.31" fill="#95c2dc"/>
<rect x="158.5" y="1711.13" width="139.6" height="14.31" fill="#f3764c"/>
<rect x="298.1" y="1711.13" width="140.2" height="14.31" fill="#fed689"/>
<rect x="438.3" y="1711.13" width="140.2" height="14.31" fill="#d0e9f2"/>
<rect x="578.5" y="1711.13" width="140.2" height="14.31" fill="#89b8d7"/>
<rect x="158.5" y="1725.44" width="139.6" height="14.31" fill="#ed6845"/>
<rect x="298.1" y="1725.44" width="140.2" height="14.31" fill="#fedc8d"/>
<rect x="438.3" y="1725.44" width="140.2" height="14.31" fill="#c4e1ee"/>
<rect x="578.5" y="1725.44" width="140.2" height="14.31" fill="#95c2dc"/>
<rect x="158.5" y="1739.74" width="139.6" height="14.31" fill="#d73027"/>
<rect x="298.1" y="1739.74" width="140.2" height="14.31" fill="#c4e1ee"/>
<rect x="438.3" y="1739.74" width="140.2" height="14.31" fill="#eaf7e5"/>
<rect x="578.5" y="1739.74" width="140.2" height="14.31" fill="#e3f4f2"/>
<rect x="158.5" y="1754.05" width="139.6" height="14.31" fill="#d73027"/>
<rect x="298.1" y="1754.05" width="140.2" height="14.31" fill="#dcf0f7"/>
<rect x="438.3" y="1754.05" width="140.2" height="14.31" fill="#d6ecf4"/>
<rect x="578.5" y="1754.05" width="140.2" height="14.31" fill="#e1f3f7"/>
<rect x="158.5" y="1768.36" width="139.6" height="14.31" fill="#da372b"/>
<rect x="298.1" y="1768.36" width="140.2" height="14.31" fill="#fafdc8"/>
<rect x="438.3" y="1768.36" width="140.2" height="14.31" fill="#cae5f0"/>
<rect x="578.5" y="1768.36" width="140.2" height="14.31" fill="#b8d9ea"/>
<rect x="158.5" y="1782.67" width="139.6" height="14.31" fill="#d73027"/>
<rect x="298.1" y="1782.67" width="140.2" height="14.31" fill="#f1fad9"/>
<rect x="438.3" y="1782.67" width="140.2" height="14.31" fill="#cae5f0"/>
<rect x="578.5" y="1782.67" width="140.2" height="14.31" fill="#d0e9f2"/>
<rect x="158.5" y="1796.98" width="139.6" height="14.31" fill="#d73027"/>
<rect x="298.1" y="1796.98" width="140.2" height="14.31" fill="#f1fad9"/>
<rect x="438.3" y="1796.98" width="140.2" height="14.31" fill="#d0e9f2"/>
<rect x="578.5" y="1796.98" width="140.2" height="14.31" fill="#cae5f0"/>
<rect x="158.5" y="1811.28" width="139.6" height="14.31" fill="#e24c36"/>
<rect x="298.1" y="1811.28" width="140.2" height="14.31" fill="#fff6b1"/>
<rect x="438.3" y="1811.28" width="140.2" height="14.31" fill="#e8f6ea"/>
<rect x="578.5" y="1811.28" width="140.2" height="14.31" fill="#8fbdda"/>
<rect x="158.5" y="1825.59" width="139.6" height="14.31" fill="#e5533a"/>
<rect x="298.1" y="1825.59" width="140.2" height="14.31" fill="#feeca3"/>
<rect x="438.3" y="1825.59" width="140.2" height="14.31" fill="#add1e5"/>
<rect x="578.5" y="1825.59" width="140.2" height="14.31" fill="#b8d9ea"/>
</g>
<text transform="translate(722 1136.15)" x="0" font-size="12.8" textLength="70.05" lengthAdjust="spacingAndGlyphs" fill="#111" stroke="#111" stroke-width="0.28">p__Chlamydiae</text>
<text transform="translate(722 1150.46)" x="0" font-size="12.8" textLength="152.43" lengthAdjust="spacingAndGlyphs" fill="#111" stroke="#111" stroke-width="0.28">p__Candidatus_Raymondbacteria</text>
<text transform="translate(722 1164.77)" x="0" font-size="12.8" textLength="82.38" lengthAdjust="spacingAndGlyphs" fill="#111" stroke="#111" stroke-width="0.28">p__Proteobacteria</text>
<text transform="translate(722 1179.08)" x="0" font-size="12.8" textLength="80.7" lengthAdjust="spacingAndGlyphs" fill="#111" stroke="#111" stroke-width="0.28">p__Actinobacteria</text>
<text transform="translate(722 1193.39)" x="0" font-size="12.8" textLength="75.67" lengthAdjust="spacingAndGlyphs" fill="#111" stroke="#111" stroke-width="0.28">p__Balneolaeota</text>
<text transform="translate(722 1207.69)" x="0" font-size="12.8" textLength="54.36" lengthAdjust="spacingAndGlyphs" fill="#111" stroke="#111" stroke-width="0.28">p__Chlorobi</text>
<text transform="translate(722 1222)" x="0" font-size="12.8" textLength="73.97" lengthAdjust="spacingAndGlyphs" fill="#111" stroke="#111" stroke-width="0.28">p__Atribacterota</text>
<text transform="translate(722 1236.31)" x="0" font-size="12.8" textLength="147.38" lengthAdjust="spacingAndGlyphs" fill="#111" stroke="#111" stroke-width="0.28">p__Candidatus_Margulisbacteria</text>
<text transform="translate(722 1250.62)" x="0" font-size="12.8" textLength="135.62" lengthAdjust="spacingAndGlyphs" fill="#111" stroke="#111" stroke-width="0.28">p__Candidatus_Parcubacteria</text>
<text transform="translate(722 1264.93)" x="0" font-size="12.8" textLength="85.73" lengthAdjust="spacingAndGlyphs" fill="#111" stroke="#111" stroke-width="0.28">p__Deferribacteres</text>
<text transform="translate(722 1279.23)" x="0" font-size="12.8" textLength="77.89" lengthAdjust="spacingAndGlyphs" fill="#111" stroke="#111" stroke-width="0.28">p__Synergistetes</text>
<text transform="translate(722 1293.54)" x="0" font-size="12.8" textLength="78.45" lengthAdjust="spacingAndGlyphs" fill="#111" stroke="#111" stroke-width="0.28">p__Fibrobacteres</text>
<text transform="translate(722 1307.85)" x="0" font-size="12.8" textLength="58.29" lengthAdjust="spacingAndGlyphs" fill="#111" stroke="#111" stroke-width="0.28">p__Aquificae</text>
<text transform="translate(722 1322.16)" x="0" font-size="12.8" textLength="156.9" lengthAdjust="spacingAndGlyphs" fill="#111" stroke="#111" stroke-width="0.28">p__candidate_division_Zixibacteria</text>
<text transform="translate(722 1336.47)" x="0" font-size="12.8" textLength="75.09" lengthAdjust="spacingAndGlyphs" fill="#111" stroke="#111" stroke-width="0.28">p__Fusobacteria</text>
<text transform="translate(722 1350.77)" x="0" font-size="12.8" textLength="80.71" lengthAdjust="spacingAndGlyphs" fill="#111" stroke="#111" stroke-width="0.28">p__Lentisphaerae</text>
<text transform="translate(722 1365.08)" x="0" font-size="12.8" textLength="133.37" lengthAdjust="spacingAndGlyphs" fill="#111" stroke="#111" stroke-width="0.28">p__Candidatus_Omnitrophica</text>
<text transform="translate(722 1379.39)" x="0" font-size="12.8" textLength="78.46" lengthAdjust="spacingAndGlyphs" fill="#111" stroke="#111" stroke-width="0.28">p__Bacteroidetes</text>
<text transform="translate(722 1393.7)" x="0" font-size="12.8" textLength="85.19" lengthAdjust="spacingAndGlyphs" fill="#111" stroke="#111" stroke-width="0.28">p__Ignavibacteriae</text>
<text transform="translate(722 1408.01)" x="0" font-size="12.8" textLength="125.53" lengthAdjust="spacingAndGlyphs" fill="#111" stroke="#111" stroke-width="0.28">p__Candidatus_Uhrbacteria</text>
<text transform="translate(722 1422.31)" x="0" font-size="12.8" textLength="149.06" lengthAdjust="spacingAndGlyphs" fill="#111" stroke="#111" stroke-width="0.28">p__Candidatus_Roizmanbacteria</text>
<text transform="translate(722 1436.62)" x="0" font-size="12.8" textLength="77.9" lengthAdjust="spacingAndGlyphs" fill="#111" stroke="#111" stroke-width="0.28">p__Acidobacteria</text>
<text transform="translate(722 1450.93)" x="0" font-size="12.8" textLength="150" lengthAdjust="spacingAndGlyphs" fill="#111" stroke="#111" stroke-width="0.28">p__Candidatus_Yanofskybacteria</text>
<text transform="translate(722 1465.24)" x="0" font-size="12.8" textLength="76.77" lengthAdjust="spacingAndGlyphs" fill="#111" stroke="#111" stroke-width="0.28">p__Thermotogae</text>
<text transform="translate(722 1479.55)" x="0" font-size="12.8" textLength="149.63" lengthAdjust="spacingAndGlyphs" fill="#111" stroke="#111" stroke-width="0.28">p__Candidatus_Peregrinibacteria</text>
<text transform="translate(722 1493.85)" x="0" font-size="12.8" textLength="148.5" lengthAdjust="spacingAndGlyphs" fill="#111" stroke="#111" stroke-width="0.28">p__Candidatus_Saccharibacteria</text>
<text transform="translate(722 1508.16)" x="0" font-size="12.8" textLength="158.59" lengthAdjust="spacingAndGlyphs" fill="#111" stroke="#111" stroke-width="0.28">p__Candidatus_Gottesmanbacteria</text>
<text transform="translate(722 1522.47)" x="0" font-size="12.8" textLength="158.03" lengthAdjust="spacingAndGlyphs" fill="#111" stroke="#111" stroke-width="0.28">p__Candidatus_Magasanikbacteria</text>
<text transform="translate(722 1536.78)" x="0" font-size="12.8" textLength="144.59" lengthAdjust="spacingAndGlyphs" fill="#111" stroke="#111" stroke-width="0.28">p__Candidatus_Melainabacteria</text>
<text transform="translate(722 1551.09)" x="0" font-size="12.8" textLength="140.1" lengthAdjust="spacingAndGlyphs" fill="#111" stroke="#111" stroke-width="0.28">p__Candidatus_Cloacimonetes</text>
<text transform="translate(722 1565.39)" x="0" font-size="12.8" textLength="81.82" lengthAdjust="spacingAndGlyphs" fill="#111" stroke="#111" stroke-width="0.28">p__Cyanobacteria</text>
<text transform="translate(722 1579.7)" x="0" font-size="12.8" textLength="65.56" lengthAdjust="spacingAndGlyphs" fill="#111" stroke="#111" stroke-width="0.28">p__Nitrospirae</text>
<text transform="translate(722 1594.01)" x="0" font-size="12.8" textLength="137.85" lengthAdjust="spacingAndGlyphs" fill="#111" stroke="#111" stroke-width="0.28">p__Candidatus_Gracilibacteria</text>
<text transform="translate(722 1608.32)" x="0" font-size="12.8" textLength="137.86" lengthAdjust="spacingAndGlyphs" fill="#111" stroke="#111" stroke-width="0.28">p__Candidatus_Berkelbacteria</text>
<text transform="translate(722 1622.63)" x="0" font-size="12.8" textLength="117.68" lengthAdjust="spacingAndGlyphs" fill="#111" stroke="#111" stroke-width="0.28">p__Coprothermobacterota</text>
<text transform="translate(722 1636.93)" x="0" font-size="12.8" textLength="132.82" lengthAdjust="spacingAndGlyphs" fill="#111" stroke="#111" stroke-width="0.28">p__Candidatus_Rokubacteria</text>
<text transform="translate(722 1651.24)" x="0" font-size="12.8" textLength="138.96" lengthAdjust="spacingAndGlyphs" fill="#111" stroke="#111" stroke-width="0.28">p__Candidatus_Marinimicrobia</text>
<text transform="translate(722 1665.55)" x="0" font-size="12.8" textLength="63.3" lengthAdjust="spacingAndGlyphs" fill="#111" stroke="#111" stroke-width="0.28">p__Firmicutes</text>
<text transform="translate(722 1679.86)" x="0" font-size="12.8" textLength="64.44" lengthAdjust="spacingAndGlyphs" fill="#111" stroke="#111" stroke-width="0.28">p__Chloroflexi</text>
<text transform="translate(722 1694.17)" x="0" font-size="12.8" textLength="76.76" lengthAdjust="spacingAndGlyphs" fill="#111" stroke="#111" stroke-width="0.28">p__Elusimicrobia</text>
<text transform="translate(722 1708.47)" x="0" font-size="12.8" textLength="120.19" lengthAdjust="spacingAndGlyphs" fill="#111" stroke="#111" stroke-width="0.28">p__Deinococcus−Thermus</text>
<text transform="translate(722 1722.78)" x="0" font-size="12.8" textLength="89.65" lengthAdjust="spacingAndGlyphs" fill="#111" stroke="#111" stroke-width="0.28">p__Verrucomicrobia</text>
<text transform="translate(722 1737.09)" x="0" font-size="12.8" textLength="68.91" lengthAdjust="spacingAndGlyphs" fill="#111" stroke="#111" stroke-width="0.28">p__Dictyoglomi</text>
<text transform="translate(722 1751.4)" x="0" font-size="12.8" textLength="68.37" lengthAdjust="spacingAndGlyphs" fill="#111" stroke="#111" stroke-width="0.28">p__Tenericutes</text>
<text transform="translate(722 1765.71)" x="0" font-size="12.8" textLength="137.86" lengthAdjust="spacingAndGlyphs" fill="#111" stroke="#111" stroke-width="0.28">p__Candidatus_Moranbacteria</text>
<text transform="translate(722 1780.01)" x="0" font-size="12.8" textLength="67.81" lengthAdjust="spacingAndGlyphs" fill="#111" stroke="#111" stroke-width="0.28">p__Nitrospinae</text>
<text transform="translate(722 1794.32)" x="0" font-size="12.8" textLength="75.66" lengthAdjust="spacingAndGlyphs" fill="#111" stroke="#111" stroke-width="0.28">p__Spirochaetes</text>
<text transform="translate(722 1808.63)" x="0" font-size="12.8" textLength="87.97" lengthAdjust="spacingAndGlyphs" fill="#111" stroke="#111" stroke-width="0.28">p__Planctomycetes</text>
<text transform="translate(722 1822.94)" x="0" font-size="12.8" textLength="140.47" lengthAdjust="spacingAndGlyphs" fill="#111" stroke="#111" stroke-width="0.28">p__Candidatus_Woesebacteria</text>
<text transform="translate(722 1837.25)" x="0" font-size="12.8" textLength="141.21" lengthAdjust="spacingAndGlyphs" fill="#111" stroke="#111" stroke-width="0.28">p__Candidatus_Falkowbacteria</text>
<text transform="translate(232.7 1844) rotate(-90)" x="-19.21" font-size="11" textLength="19.21" lengthAdjust="spacingAndGlyphs" fill="#111" stroke="#111" stroke-width="0.3">NC</text>
<text transform="translate(372.6 1844) rotate(-90)" x="-17.73" font-size="11" textLength="17.73" lengthAdjust="spacingAndGlyphs" fill="#111" stroke="#111" stroke-width="0.3">HF</text>
<text transform="translate(512.8 1844) rotate(-90)" x="-44.34" font-size="11" textLength="44.34" lengthAdjust="spacingAndGlyphs" fill="#111" stroke="#111" stroke-width="0.3">HF_NC</text>
<text transform="translate(653 1844) rotate(-90)" x="-45.81" font-size="11" textLength="45.81" lengthAdjust="spacingAndGlyphs" fill="#111" stroke="#111" stroke-width="0.3">HF_MD</text>
<path d="M157.2 1174.58H156.5V1188.89H157.2M157.2 1160.27H156V1181.73H156.5M157.2 1145.96H155V1171H156M157.2 1131.65H153.8V1158.48H155M157.2 1203.19H150.8V1217.5H157.2M153.8 1145.07H147.7V1210.35H150.8M157.2 1231.81H153.5V1246.12H157.2M157.2 1260.43H156.2V1274.73H157.2M157.2 1289.04H153.8V1303.35H157.2M156.2 1267.58H152.8V1296.2H153.8M153.5 1238.96H147.7V1281.89H152.8M157.2 1331.97H151.5V1346.27H157.2M157.2 1317.66H146.5V1339.12H151.5M147.7 1260.43H142.3V1328.39H146.5M147.7 1177.71H133V1294.41H142.3M157.2 1374.89H145.4V1389.2H157.2M157.2 1360.58H130.2V1382.04H145.4M133 1236.06H113.2V1371.31H130.2M157.2 1432.12H152.5V1446.43H157.2M157.2 1417.81H152.1V1439.28H152.5M157.2 1403.51H145.8V1428.55H152.1M157.2 1489.35H154.8V1503.66H157.2M157.2 1475.05H153.8V1496.51H154.8M157.2 1460.74H145.8V1485.78H153.8M145.8 1416.03H137.8V1473.26H145.8M157.2 1532.28H153.5V1546.59H157.2M157.2 1517.97H150.1V1539.43H153.5M157.2 1560.89H155.8V1575.2H157.2M157.2 1589.51H152.1V1603.82H157.2M155.8 1568.05H144.1V1596.66H152.1M150.1 1528.7H134.9V1582.36H144.1M137.8 1444.64H117.9V1555.53H134.9M157.2 1632.43H147.4V1646.74H157.2M157.2 1618.13H131.6V1639.59H147.4M157.2 1661.05H153.8V1675.36H157.2M157.2 1689.67H154.8V1703.97H157.2M157.2 1718.28H153.8V1732.59H157.2M154.8 1696.82H152.4V1725.44H153.8M153.8 1668.2H145.7V1711.13H152.4M157.2 1746.9H153.8V1761.21H157.2M157.2 1789.82H156.2V1804.13H157.2M157.2 1775.51H153.5V1796.98H156.2M157.2 1818.44H149.7V1832.75H157.2M153.5 1786.25H147.4V1825.59H149.7M153.8 1754.05H141.4V1805.92H147.4M145.7 1689.67H128.9V1779.99H141.4M131.6 1628.86H113.4V1734.83H128.9M117.9 1500.09H106.6V1681.84H113.4M113.2 1303.69H106.2V1590.96H106.6" fill="none" stroke="#1a1a1a" stroke-width="1.25" stroke-linejoin="miter"/>
<defs><linearGradient id="gC" x1="0" y1="1" x2="0" y2="0">
<stop offset="0.15" stop-color="#4575b4"/>
<stop offset="0.27" stop-color="#91bfdb"/>
<stop offset="0.38" stop-color="#e0f3f8"/>
<stop offset="0.5" stop-color="#ffffbf"/>
<stop offset="0.62" stop-color="#fee090"/>
<stop offset="0.73" stop-color="#fc8d59"/>
<stop offset="0.85" stop-color="#d73027"/>
</linearGradient></defs>
<rect x="11.2" y="1450" width="12.2" height="81.8" fill="url(#gC)"/>
<text transform="translate(11.3 1442.7)" x="0" font-size="13.7" class="b" textLength="89.6" lengthAdjust="spacingAndGlyphs" fill="#111" stroke="#111" stroke-width="0.2">Scaled abundance</text>
<line x1="11.2" y1="1452.95" x2="13.6" y2="1452.95" stroke="#fff" stroke-width="1"/>
<line x1="21" y1="1452.95" x2="23.4" y2="1452.95" stroke="#fff" stroke-width="1"/>
<text transform="translate(25.7 1457.85)" x="0" font-size="13.6" textLength="5.6" lengthAdjust="spacingAndGlyphs" fill="#111" stroke="#111" stroke-width="0.35">2</text>
<line x1="11.2" y1="1471.95" x2="13.6" y2="1471.95" stroke="#fff" stroke-width="1"/>
<line x1="21" y1="1471.95" x2="23.4" y2="1471.95" stroke="#fff" stroke-width="1"/>
<text transform="translate(25.7 1476.85)" x="0" font-size="13.6" textLength="5.6" lengthAdjust="spacingAndGlyphs" fill="#111" stroke="#111" stroke-width="0.35">1</text>
<line x1="11.2" y1="1490.95" x2="13.6" y2="1490.95" stroke="#fff" stroke-width="1"/>
<line x1="21" y1="1490.95" x2="23.4" y2="1490.95" stroke="#fff" stroke-width="1"/>
<text transform="translate(25.7 1495.85)" x="0" font-size="13.6" textLength="5.6" lengthAdjust="spacingAndGlyphs" fill="#111" stroke="#111" stroke-width="0.35">0</text>
<line x1="11.2" y1="1509.95" x2="13.6" y2="1509.95" stroke="#fff" stroke-width="1"/>
<line x1="21" y1="1509.95" x2="23.4" y2="1509.95" stroke="#fff" stroke-width="1"/>
<text transform="translate(25.7 1514.85)" x="0" font-size="13.6" textLength="11.47" lengthAdjust="spacingAndGlyphs" fill="#111" stroke="#111" stroke-width="0.35">−1</text>
<line x1="11.2" y1="1528.95" x2="13.6" y2="1528.95" stroke="#fff" stroke-width="1"/>
<line x1="21" y1="1528.95" x2="23.4" y2="1528.95" stroke="#fff" stroke-width="1"/>
<text transform="translate(25.7 1533.85)" x="0" font-size="13.6" textLength="11.47" lengthAdjust="spacingAndGlyphs" fill="#111" stroke="#111" stroke-width="0.35">−2</text>
</g>
<text transform="translate(448 1920)" x="-23.81" font-size="34.3" class="b s">(C)</text>
<g>
<g stroke="#a3a3a3" stroke-width="1">
<rect x="1040.1" y="1124.4" width="140.4" height="14.31" fill="#e8f6ea"/>
<rect x="1180.5" y="1124.4" width="141" height="14.31" fill="#8fbdda"/>
<rect x="1321.5" y="1124.4" width="140.4" height="14.31" fill="#df4532"/>
<rect x="1461.9" y="1124.4" width="141" height="14.31" fill="#fffab8"/>
<rect x="1040.1" y="1138.71" width="140.4" height="14.31" fill="#8fbdda"/>
<rect x="1180.5" y="1138.71" width="141" height="14.31" fill="#d0e9f2"/>
<rect x="1321.5" y="1138.71" width="140.4" height="14.31" fill="#ed6845"/>
<rect x="1461.9" y="1138.71" width="141" height="14.31" fill="#fee598"/>
<rect x="1040.1" y="1153.01" width="140.4" height="14.31" fill="#7eacd1"/>
<rect x="1180.5" y="1153.01" width="141" height="14.31" fill="#d6ecf4"/>
<rect x="1321.5" y="1153.01" width="140.4" height="14.31" fill="#fc915c"/>
<rect x="1461.9" y="1153.01" width="141" height="14.31" fill="#fdb674"/>
<rect x="1040.1" y="1167.32" width="140.4" height="14.31" fill="#89b8d7"/>
<rect x="1180.5" y="1167.32" width="141" height="14.31" fill="#c4e1ee"/>
<rect x="1321.5" y="1167.32" width="140.4" height="14.31" fill="#fb8b58"/>
<rect x="1461.9" y="1167.32" width="141" height="14.31" fill="#fdb674"/>
<rect x="1040.1" y="1181.62" width="140.4" height="14.31" fill="#a7cde3"/>
<rect x="1180.5" y="1181.62" width="141" height="14.31" fill="#a1c9e1"/>
<rect x="1321.5" y="1181.62" width="140.4" height="14.31" fill="#fc915c"/>
<rect x="1461.9" y="1181.62" width="141" height="14.31" fill="#fdb070"/>
<rect x="1040.1" y="1195.93" width="140.4" height="14.31" fill="#a1c9e1"/>
<rect x="1180.5" y="1195.93" width="141" height="14.31" fill="#a7cde3"/>
<rect x="1321.5" y="1195.93" width="140.4" height="14.31" fill="#fda468"/>
<rect x="1461.9" y="1195.93" width="141" height="14.31" fill="#fc915c"/>
<rect x="1040.1" y="1210.24" width="140.4" height="14.31" fill="#b8d9ea"/>
<rect x="1180.5" y="1210.24" width="141" height="14.31" fill="#b3d5e7"/>
<rect x="1321.5" y="1210.24" width="140.4" height="14.31" fill="#fffdbb"/>
<rect x="1461.9" y="1210.24" width="141" height="14.31" fill="#dd3e2f"/>
<rect x="1040.1" y="1224.54" width="140.4" height="14.31" fill="#e8f6ea"/>
<rect x="1180.5" y="1224.54" width="141" height="14.31" fill="#73a1cb"/>
<rect x="1321.5" y="1224.54" width="140.4" height="14.31" fill="#fdb976"/>
<rect x="1461.9" y="1224.54" width="141" height="14.31" fill="#fc9760"/>
<rect x="1040.1" y="1238.85" width="140.4" height="14.31" fill="#f8fccc"/>
<rect x="1180.5" y="1238.85" width="141" height="14.31" fill="#6291c3"/>
<rect x="1321.5" y="1238.85" width="140.4" height="14.31" fill="#fdc981"/>
<rect x="1461.9" y="1238.85" width="141" height="14.31" fill="#fc9b62"/>
<rect x="1040.1" y="1253.15" width="140.4" height="14.31" fill="#feea9f"/>
<rect x="1180.5" y="1253.15" width="141" height="14.31" fill="#4575b4"/>
<rect x="1321.5" y="1253.15" width="140.4" height="14.31" fill="#fedc8d"/>
<rect x="1461.9" y="1253.15" width="141" height="14.31" fill="#fdba77"/>
<rect x="1040.1" y="1267.46" width="140.4" height="14.31" fill="#fffab8"/>
<rect x="1180.5" y="1267.46" width="141" height="14.31" fill="#73a1cb"/>
<rect x="1321.5" y="1267.46" width="140.4" height="14.31" fill="#fffdbb"/>
<rect x="1461.9" y="1267.46" width="141" height="14.31" fill="#e85a3e"/>
<rect x="1040.1" y="1281.77" width="140.4" height="14.31" fill="#78a7ce"/>
<rect x="1180.5" y="1281.77" width="141" height="14.31" fill="#f06f49"/>
<rect x="1321.5" y="1281.77" width="140.4" height="14.31" fill="#fee89c"/>
<rect x="1461.9" y="1281.77" width="141" height="14.31" fill="#e8f6ea"/>
<rect x="1040.1" y="1296.07" width="140.4" height="14.31" fill="#f6fbd0"/>
<rect x="1180.5" y="1296.07" width="141" height="14.31" fill="#da372b"/>
<rect x="1321.5" y="1296.07" width="140.4" height="14.31" fill="#c7e2ef"/>
<rect x="1461.9" y="1296.07" width="141" height="14.31" fill="#c7e2ef"/>
<rect x="1040.1" y="1310.38" width="140.4" height="14.31" fill="#fff1aa"/>
<rect x="1180.5" y="1310.38" width="141" height="14.31" fill="#e5533a"/>
<rect x="1321.5" y="1310.38" width="140.4" height="14.31" fill="#add1e5"/>
<rect x="1461.9" y="1310.38" width="141" height="14.31" fill="#b8d9ea"/>
<rect x="1040.1" y="1324.68" width="140.4" height="14.31" fill="#fff0a8"/>
<rect x="1180.5" y="1324.68" width="141" height="14.31" fill="#e5533a"/>
<rect x="1321.5" y="1324.68" width="140.4" height="14.31" fill="#beddec"/>
<rect x="1461.9" y="1324.68" width="141" height="14.31" fill="#a7cde3"/>
<rect x="1040.1" y="1338.99" width="140.4" height="14.31" fill="#e5f5ee"/>
<rect x="1180.5" y="1338.99" width="141" height="14.31" fill="#da372b"/>
<rect x="1321.5" y="1338.99" width="140.4" height="14.31" fill="#e3f4f2"/>
<rect x="1461.9" y="1338.99" width="141" height="14.31" fill="#c4e1ee"/>
<rect x="1040.1" y="1353.3" width="140.4" height="14.31" fill="#e5f5ee"/>
<rect x="1180.5" y="1353.3" width="141" height="14.31" fill="#da372b"/>
<rect x="1321.5" y="1353.3" width="140.4" height="14.31" fill="#e1f3f7"/>
<rect x="1461.9" y="1353.3" width="141" height="14.31" fill="#dcf0f7"/>
<rect x="1040.1" y="1367.6" width="140.4" height="14.31" fill="#e1f3f7"/>
<rect x="1180.5" y="1367.6" width="141" height="14.31" fill="#da372b"/>
<rect x="1321.5" y="1367.6" width="140.4" height="14.31" fill="#e1f3f7"/>
<rect x="1461.9" y="1367.6" width="141" height="14.31" fill="#e1f3f7"/>
<rect x="1040.1" y="1381.91" width="140.4" height="14.31" fill="#e1f3f7"/>
<rect x="1180.5" y="1381.91" width="141" height="14.31" fill="#da372b"/>
<rect x="1321.5" y="1381.91" width="140.4" height="14.31" fill="#dcf0f7"/>
<rect x="1461.9" y="1381.91" width="141" height="14.31" fill="#e1f3f7"/>
<rect x="1040.1" y="1396.21" width="140.4" height="14.31" fill="#c4e1ee"/>
<rect x="1180.5" y="1396.21" width="141" height="14.31" fill="#da372b"/>
<rect x="1321.5" y="1396.21" width="140.4" height="14.31" fill="#dcf0f7"/>
<rect x="1461.9" y="1396.21" width="141" height="14.31" fill="#eff9dd"/>
<rect x="1040.1" y="1410.52" width="140.4" height="14.31" fill="#beddec"/>
<rect x="1180.5" y="1410.52" width="141" height="14.31" fill="#da372b"/>
<rect x="1321.5" y="1410.52" width="140.4" height="14.31" fill="#eff9dd"/>
<rect x="1461.9" y="1410.52" width="141" height="14.31" fill="#eaf7e5"/>
<rect x="1040.1" y="1424.83" width="140.4" height="14.31" fill="#c4e1ee"/>
<rect x="1180.5" y="1424.83" width="141" height="14.31" fill="#da372b"/>
<rect x="1321.5" y="1424.83" width="140.4" height="14.31" fill="#ecf8e1"/>
<rect x="1461.9" y="1424.83" width="141" height="14.31" fill="#eaf7e5"/>
<rect x="1040.1" y="1439.13" width="140.4" height="14.31" fill="#beddec"/>
<rect x="1180.5" y="1439.13" width="141" height="14.31" fill="#da372b"/>
<rect x="1321.5" y="1439.13" width="140.4" height="14.31" fill="#f3fad4"/>
<rect x="1461.9" y="1439.13" width="141" height="14.31" fill="#dcf0f7"/>
<rect x="1040.1" y="1453.44" width="140.4" height="14.31" fill="#b8d9ea"/>
<rect x="1180.5" y="1453.44" width="141" height="14.31" fill="#da372b"/>
<rect x="1321.5" y="1453.44" width="140.4" height="14.31" fill="#f3fad4"/>
<rect x="1461.9" y="1453.44" width="141" height="14.31" fill="#e1f3f7"/>
<rect x="1040.1" y="1467.74" width="140.4" height="14.31" fill="#cae5f0"/>
<rect x="1180.5" y="1467.74" width="141" height="14.31" fill="#da372b"/>
<rect x="1321.5" y="1467.74" width="140.4" height="14.31" fill="#eaf7e5"/>
<rect x="1461.9" y="1467.74" width="141" height="14.31" fill="#e1f3f7"/>
<rect x="1040.1" y="1482.05" width="140.4" height="14.31" fill="#d0e9f2"/>
<rect x="1180.5" y="1482.05" width="141" height="14.31" fill="#d73027"/>
<rect x="1321.5" y="1482.05" width="140.4" height="14.31" fill="#ecf8e1"/>
<rect x="1461.9" y="1482.05" width="141" height="14.31" fill="#dcf0f7"/>
<rect x="1040.1" y="1496.36" width="140.4" height="14.31" fill="#fdc981"/>
<rect x="1180.5" y="1496.36" width="141" height="14.31" fill="#f67d50"/>
<rect x="1321.5" y="1496.36" width="140.4" height="14.31" fill="#a1c9e1"/>
<rect x="1461.9" y="1496.36" width="141" height="14.31" fill="#add1e5"/>
<rect x="1040.1" y="1510.66" width="140.4" height="14.31" fill="#fdc37d"/>
<rect x="1180.5" y="1510.66" width="141" height="14.31" fill="#f67d50"/>
<rect x="1321.5" y="1510.66" width="140.4" height="14.31" fill="#a1c9e1"/>
<rect x="1461.9" y="1510.66" width="141" height="14.31" fill="#a7cde3"/>
<rect x="1040.1" y="1524.97" width="140.4" height="14.31" fill="#fdb070"/>
<rect x="1180.5" y="1524.97" width="141" height="14.31" fill="#fc915c"/>
<rect x="1321.5" y="1524.97" width="140.4" height="14.31" fill="#9bc6df"/>
<rect x="1461.9" y="1524.97" width="141" height="14.31" fill="#a7cde3"/>
<rect x="1040.1" y="1539.27" width="140.4" height="14.31" fill="#fdb070"/>
<rect x="1180.5" y="1539.27" width="141" height="14.31" fill="#fc915c"/>
<rect x="1321.5" y="1539.27" width="140.4" height="14.31" fill="#a7cde3"/>
<rect x="1461.9" y="1539.27" width="141" height="14.31" fill="#a1c9e1"/>
<rect x="1040.1" y="1553.58" width="140.4" height="14.31" fill="#fee598"/>
<rect x="1180.5" y="1553.58" width="141" height="14.31" fill="#ed6845"/>
<rect x="1321.5" y="1553.58" width="140.4" height="14.31" fill="#a1c9e1"/>
<rect x="1461.9" y="1553.58" width="141" height="14.31" fill="#b8d9ea"/>
<rect x="1040.1" y="1567.89" width="140.4" height="14.31" fill="#fee395"/>
<rect x="1180.5" y="1567.89" width="141" height="14.31" fill="#ed6845"/>
<rect x="1321.5" y="1567.89" width="140.4" height="14.31" fill="#a1c9e1"/>
<rect x="1461.9" y="1567.89" width="141" height="14.31" fill="#b8d9ea"/>
<rect x="1040.1" y="1582.19" width="140.4" height="14.31" fill="#fee191"/>
<rect x="1180.5" y="1582.19" width="141" height="14.31" fill="#f06f49"/>
<rect x="1321.5" y="1582.19" width="140.4" height="14.31" fill="#b8d9ea"/>
<rect x="1461.9" y="1582.19" width="141" height="14.31" fill="#9bc6df"/>
<rect x="1040.1" y="1596.5" width="140.4" height="14.31" fill="#fee191"/>
<rect x="1180.5" y="1596.5" width="141" height="14.31" fill="#f06f49"/>
<rect x="1321.5" y="1596.5" width="140.4" height="14.31" fill="#add1e5"/>
<rect x="1461.9" y="1596.5" width="141" height="14.31" fill="#a1c9e1"/>
<rect x="1040.1" y="1610.8" width="140.4" height="14.31" fill="#f06f49"/>
<rect x="1180.5" y="1610.8" width="141" height="14.31" fill="#fee395"/>
<rect x="1321.5" y="1610.8" width="140.4" height="14.31" fill="#d6ecf4"/>
<rect x="1461.9" y="1610.8" width="141" height="14.31" fill="#84b2d4"/>
<rect x="1040.1" y="1625.11" width="140.4" height="14.31" fill="#ed6845"/>
<rect x="1180.5" y="1625.11" width="141" height="14.31" fill="#fedc8d"/>
<rect x="1321.5" y="1625.11" width="140.4" height="14.31" fill="#95c2dc"/>
<rect x="1461.9" y="1625.11" width="141" height="14.31" fill="#b3d5e7"/>
<rect x="1040.1" y="1639.42" width="140.4" height="14.31" fill="#ed6845"/>
<rect x="1180.5" y="1639.42" width="141" height="14.31" fill="#fee395"/>
<rect x="1321.5" y="1639.42" width="140.4" height="14.31" fill="#95c2dc"/>
<rect x="1461.9" y="1639.42" width="141" height="14.31" fill="#beddec"/>
<rect x="1040.1" y="1653.72" width="140.4" height="14.31" fill="#fc9e64"/>
<rect x="1180.5" y="1653.72" width="141" height="14.31" fill="#fda468"/>
<rect x="1321.5" y="1653.72" width="140.4" height="14.31" fill="#8fbdda"/>
<rect x="1461.9" y="1653.72" width="141" height="14.31" fill="#b3d5e7"/>
<rect x="1040.1" y="1668.03" width="140.4" height="14.31" fill="#fb8b58"/>
<rect x="1180.5" y="1668.03" width="141" height="14.31" fill="#fdb674"/>
<rect x="1321.5" y="1668.03" width="140.4" height="14.31" fill="#95c2dc"/>
<rect x="1461.9" y="1668.03" width="141" height="14.31" fill="#add1e5"/>
<rect x="1040.1" y="1682.33" width="140.4" height="14.31" fill="#fc915c"/>
<rect x="1180.5" y="1682.33" width="141" height="14.31" fill="#fdb674"/>
<rect x="1321.5" y="1682.33" width="140.4" height="14.31" fill="#add1e5"/>
<rect x="1461.9" y="1682.33" width="141" height="14.31" fill="#95c2dc"/>
<rect x="1040.1" y="1696.64" width="140.4" height="14.31" fill="#df4532"/>
<rect x="1180.5" y="1696.64" width="141" height="14.31" fill="#fffab8"/>
<rect x="1321.5" y="1696.64" width="140.4" height="14.31" fill="#b8d9ea"/>
<rect x="1461.9" y="1696.64" width="141" height="14.31" fill="#b3d5e7"/>
<rect x="1040.1" y="1710.95" width="140.4" height="14.31" fill="#df4532"/>
<rect x="1180.5" y="1710.95" width="141" height="14.31" fill="#fffdbb"/>
<rect x="1321.5" y="1710.95" width="140.4" height="14.31" fill="#95c2dc"/>
<rect x="1461.9" y="1710.95" width="141" height="14.31" fill="#e8f6ea"/>
<rect x="1040.1" y="1725.25" width="140.4" height="14.31" fill="#dd3e2f"/>
<rect x="1180.5" y="1725.25" width="141" height="14.31" fill="#fffdbb"/>
<rect x="1321.5" y="1725.25" width="140.4" height="14.31" fill="#b3d5e7"/>
<rect x="1461.9" y="1725.25" width="141" height="14.31" fill="#d0e9f2"/>
<rect x="1040.1" y="1739.56" width="140.4" height="14.31" fill="#e85a3e"/>
<rect x="1180.5" y="1739.56" width="141" height="14.31" fill="#89b8d7"/>
<rect x="1321.5" y="1739.56" width="140.4" height="14.31" fill="#fffdbb"/>
<rect x="1461.9" y="1739.56" width="141" height="14.31" fill="#f6fbd0"/>
<rect x="1040.1" y="1753.86" width="140.4" height="14.31" fill="#d73027"/>
<rect x="1180.5" y="1753.86" width="141" height="14.31" fill="#eff9dd"/>
<rect x="1321.5" y="1753.86" width="140.4" height="14.31" fill="#beddec"/>
<rect x="1461.9" y="1753.86" width="141" height="14.31" fill="#dcf0f7"/>
<rect x="1040.1" y="1768.17" width="140.4" height="14.31" fill="#d73027"/>
<rect x="1180.5" y="1768.17" width="141" height="14.31" fill="#e3f4f2"/>
<rect x="1321.5" y="1768.17" width="140.4" height="14.31" fill="#d6ecf4"/>
<rect x="1461.9" y="1768.17" width="141" height="14.31" fill="#dcf0f7"/>
<rect x="1040.1" y="1782.48" width="140.4" height="14.31" fill="#df4532"/>
<rect x="1180.5" y="1782.48" width="141" height="14.31" fill="#c4e1ee"/>
<rect x="1321.5" y="1782.48" width="140.4" height="14.31" fill="#add1e5"/>
<rect x="1461.9" y="1782.48" width="141" height="14.31" fill="#fffab8"/>
<rect x="1040.1" y="1796.78" width="140.4" height="14.31" fill="#d73027"/>
<rect x="1180.5" y="1796.78" width="141" height="14.31" fill="#d0e9f2"/>
<rect x="1321.5" y="1796.78" width="140.4" height="14.31" fill="#cae5f0"/>
<rect x="1461.9" y="1796.78" width="141" height="14.31" fill="#edf8df"/>
<rect x="1040.1" y="1811.09" width="140.4" height="14.31" fill="#da372b"/>
<rect x="1180.5" y="1811.09" width="141" height="14.31" fill="#b8d9ea"/>
<rect x="1321.5" y="1811.09" width="140.4" height="14.31" fill="#e1f3f7"/>
<rect x="1461.9" y="1811.09" width="141" height="14.31" fill="#f6fbd0"/>
<rect x="1040.1" y="1825.39" width="140.4" height="14.31" fill="#da372b"/>
<rect x="1180.5" y="1825.39" width="141" height="14.31" fill="#c4e1ee"/>
<rect x="1321.5" y="1825.39" width="140.4" height="14.31" fill="#d6ecf4"/>
<rect x="1461.9" y="1825.39" width="141" height="14.31" fill="#f3fad4"/>
</g>
<text transform="translate(1605.6 1136.05)" x="0" font-size="12.8" textLength="87.42" lengthAdjust="spacingAndGlyphs" fill="#111" stroke="#111" stroke-width="0.28">g__Ligilactobacillus</text>
<text transform="translate(1605.6 1150.36)" x="0" font-size="12.8" textLength="95.81" lengthAdjust="spacingAndGlyphs" fill="#111" stroke="#111" stroke-width="0.28">g__Paramuribaculum</text>
<text transform="translate(1605.6 1164.67)" x="0" font-size="12.8" textLength="71.74" lengthAdjust="spacingAndGlyphs" fill="#111" stroke="#111" stroke-width="0.28">g__Phocaeicola</text>
<text transform="translate(1605.6 1178.97)" x="0" font-size="12.8" textLength="75.65" lengthAdjust="spacingAndGlyphs" fill="#111" stroke="#111" stroke-width="0.28">g__Haemophilus</text>
<text transform="translate(1605.6 1193.28)" x="0" font-size="12.8" textLength="133.37" lengthAdjust="spacingAndGlyphs" fill="#111" stroke="#111" stroke-width="0.28">o__Bacteroidales;unclassified</text>
<text transform="translate(1605.6 1207.58)" x="0" font-size="12.8" textLength="74.52" lengthAdjust="spacingAndGlyphs" fill="#111" stroke="#111" stroke-width="0.28">g__Muribaculum</text>
<text transform="translate(1605.6 1221.89)" x="0" font-size="12.8" textLength="87.98" lengthAdjust="spacingAndGlyphs" fill="#111" stroke="#111" stroke-width="0.28">g__Porphyromonas</text>
<text transform="translate(1605.6 1236.2)" x="0" font-size="12.8" textLength="140.65" lengthAdjust="spacingAndGlyphs" fill="#111" stroke="#111" stroke-width="0.28">f__Muribaculaceae;unclassified</text>
<text transform="translate(1605.6 1250.5)" x="0" font-size="12.8" textLength="66.69" lengthAdjust="spacingAndGlyphs" fill="#111" stroke="#111" stroke-width="0.28">g__Barnesiella</text>
<text transform="translate(1605.6 1264.81)" x="0" font-size="12.8" textLength="61.64" lengthAdjust="spacingAndGlyphs" fill="#111" stroke="#111" stroke-width="0.28">g__Prevotella</text>
<text transform="translate(1605.6 1279.11)" x="0" font-size="12.8" textLength="69.49" lengthAdjust="spacingAndGlyphs" fill="#111" stroke="#111" stroke-width="0.28">g__Duncaniella</text>
<text transform="translate(1605.6 1293.42)" x="0" font-size="12.8" textLength="70.05" lengthAdjust="spacingAndGlyphs" fill="#111" stroke="#111" stroke-width="0.28">g__Bacteroides</text>
<text transform="translate(1605.6 1307.73)" x="0" font-size="12.8" textLength="75.07" lengthAdjust="spacingAndGlyphs" fill="#111" stroke="#111" stroke-width="0.28">g__Mucispirillum</text>
<text transform="translate(1605.6 1322.03)" x="0" font-size="12.8" textLength="82.38" lengthAdjust="spacingAndGlyphs" fill="#111" stroke="#111" stroke-width="0.28">g__Anaerotruncus</text>
<text transform="translate(1605.6 1336.34)" x="0" font-size="12.8" textLength="54.93" lengthAdjust="spacingAndGlyphs" fill="#111" stroke="#111" stroke-width="0.28">g__Bilophila</text>
<text transform="translate(1605.6 1350.64)" x="0" font-size="12.8" textLength="69.48" lengthAdjust="spacingAndGlyphs" fill="#111" stroke="#111" stroke-width="0.28">g__Odoribacter</text>
<text transform="translate(1605.6 1364.95)" x="0" font-size="12.8" textLength="160.82" lengthAdjust="spacingAndGlyphs" fill="#111" stroke="#111" stroke-width="0.28">f__Desulfovibrionaceae;unclassified</text>
<text transform="translate(1605.6 1379.26)" x="0" font-size="12.8" textLength="136.72" lengthAdjust="spacingAndGlyphs" fill="#111" stroke="#111" stroke-width="0.28">g__Candidatus_Amulumruptor</text>
<text transform="translate(1605.6 1393.56)" x="0" font-size="12.8" textLength="86.29" lengthAdjust="spacingAndGlyphs" fill="#111" stroke="#111" stroke-width="0.28">g__Bifidobacterium</text>
<text transform="translate(1605.6 1407.87)" x="0" font-size="12.8" textLength="72.85" lengthAdjust="spacingAndGlyphs" fill="#111" stroke="#111" stroke-width="0.28">g__Helicobacter</text>
<text transform="translate(1605.6 1422.17)" x="0" font-size="12.8" textLength="75.09" lengthAdjust="spacingAndGlyphs" fill="#111" stroke="#111" stroke-width="0.28">g__Desulfovibrio</text>
<text transform="translate(1605.6 1436.48)" x="0" font-size="12.8" textLength="80.12" lengthAdjust="spacingAndGlyphs" fill="#111" stroke="#111" stroke-width="0.28">g__Butyricimonas</text>
<text transform="translate(1605.6 1450.79)" x="0" font-size="12.8" textLength="90.23" lengthAdjust="spacingAndGlyphs" fill="#111" stroke="#111" stroke-width="0.28">g__Parabacteroides</text>
<text transform="translate(1605.6 1465.09)" x="0" font-size="12.8" textLength="54.35" lengthAdjust="spacingAndGlyphs" fill="#111" stroke="#111" stroke-width="0.28">g__Alistipes</text>
<text transform="translate(1605.6 1479.4)" x="0" font-size="12.8" textLength="64.44" lengthAdjust="spacingAndGlyphs" fill="#111" stroke="#111" stroke-width="0.28">g__Chlamydia</text>
<text transform="translate(1605.6 1493.7)" x="0" font-size="12.8" textLength="87.42" lengthAdjust="spacingAndGlyphs" fill="#111" stroke="#111" stroke-width="0.28">g__Faecalibaculum</text>
<text transform="translate(1605.6 1508.01)" x="0" font-size="12.8" textLength="44.27" lengthAdjust="spacingAndGlyphs" fill="#111" stroke="#111" stroke-width="0.28">g__Dorea</text>
<text transform="translate(1605.6 1522.32)" x="0" font-size="12.8" textLength="81.24" lengthAdjust="spacingAndGlyphs" fill="#111" stroke="#111" stroke-width="0.28">g__Butyricicoccus</text>
<text transform="translate(1605.6 1536.62)" x="0" font-size="12.8" textLength="108.71" lengthAdjust="spacingAndGlyphs" fill="#111" stroke="#111" stroke-width="0.28">g__Pseudoflavonifractor</text>
<text transform="translate(1605.6 1550.93)" x="0" font-size="12.8" textLength="133.37" lengthAdjust="spacingAndGlyphs" fill="#111" stroke="#111" stroke-width="0.28">o__Eubacteriales;unclassified</text>
<text transform="translate(1605.6 1565.23)" x="0" font-size="12.8" textLength="77.88" lengthAdjust="spacingAndGlyphs" fill="#111" stroke="#111" stroke-width="0.28">g__Flavonifractor</text>
<text transform="translate(1605.6 1579.54)" x="0" font-size="12.8" textLength="47.64" lengthAdjust="spacingAndGlyphs" fill="#111" stroke="#111" stroke-width="0.28">g__Blautia</text>
<text transform="translate(1605.6 1593.85)" x="0" font-size="12.8" textLength="62.77" lengthAdjust="spacingAndGlyphs" fill="#111" stroke="#111" stroke-width="0.28">g__Roseburia</text>
<text transform="translate(1605.6 1608.15)" x="0" font-size="12.8" textLength="73.41" lengthAdjust="spacingAndGlyphs" fill="#111" stroke="#111" stroke-width="0.28">g__Eubacterium</text>
<text transform="translate(1605.6 1622.46)" x="0" font-size="12.8" textLength="75.08" lengthAdjust="spacingAndGlyphs" fill="#111" stroke="#111" stroke-width="0.28">g__Akkermansia</text>
<text transform="translate(1605.6 1636.76)" x="0" font-size="12.8" textLength="82.93" lengthAdjust="spacingAndGlyphs" fill="#111" stroke="#111" stroke-width="0.28">g__Ruminococcus</text>
<text transform="translate(1605.6 1651.07)" x="0" font-size="12.8" textLength="76.21" lengthAdjust="spacingAndGlyphs" fill="#111" stroke="#111" stroke-width="0.28">g__Enterocloster</text>
<text transform="translate(1605.6 1665.38)" x="0" font-size="12.8" textLength="71.71" lengthAdjust="spacingAndGlyphs" fill="#111" stroke="#111" stroke-width="0.28">g__Oscillibacter</text>
<text transform="translate(1605.6 1679.68)" x="0" font-size="12.8" textLength="77.9" lengthAdjust="spacingAndGlyphs" fill="#111" stroke="#111" stroke-width="0.28">g__Schaedlerella</text>
<text transform="translate(1605.6 1693.99)" x="0" font-size="12.8" textLength="75.09" lengthAdjust="spacingAndGlyphs" fill="#111" stroke="#111" stroke-width="0.28">g__Acutalibacter</text>
<text transform="translate(1605.6 1708.29)" x="0" font-size="12.8" textLength="118.77" lengthAdjust="spacingAndGlyphs" fill="#111" stroke="#111" stroke-width="0.28">p__Firmicutes;unclassified</text>
<text transform="translate(1605.6 1722.6)" x="0" font-size="12.8" textLength="98.06" lengthAdjust="spacingAndGlyphs" fill="#111" stroke="#111" stroke-width="0.28">g__Lachnoclostridium</text>
<text transform="translate(1605.6 1736.91)" x="0" font-size="12.8" textLength="65.02" lengthAdjust="spacingAndGlyphs" fill="#111" stroke="#111" stroke-width="0.28">g__Hungatella</text>
<text transform="translate(1605.6 1751.21)" x="0" font-size="12.8" textLength="73.4" lengthAdjust="spacingAndGlyphs" fill="#111" stroke="#111" stroke-width="0.28">g__Mycoplasma</text>
<text transform="translate(1605.6 1765.52)" x="0" font-size="12.8" textLength="67.23" lengthAdjust="spacingAndGlyphs" fill="#111" stroke="#111" stroke-width="0.28">g__Clostridium</text>
<text transform="translate(1605.6 1779.82)" x="0" font-size="12.8" textLength="146.26" lengthAdjust="spacingAndGlyphs" fill="#111" stroke="#111" stroke-width="0.28">f__Lachnospiraceae;unclassified</text>
<text transform="translate(1605.6 1794.13)" x="0" font-size="12.8" textLength="81.82" lengthAdjust="spacingAndGlyphs" fill="#111" stroke="#111" stroke-width="0.28">g__Paraprevotella</text>
<text transform="translate(1605.6 1808.43)" x="0" font-size="12.8" textLength="66.67" lengthAdjust="spacingAndGlyphs" fill="#111" stroke="#111" stroke-width="0.28">g__Butyrivibrio</text>
<text transform="translate(1605.6 1822.74)" x="0" font-size="12.8" textLength="72.85" lengthAdjust="spacingAndGlyphs" fill="#111" stroke="#111" stroke-width="0.28">g__Acetatifactor</text>
<text transform="translate(1605.6 1837.05)" x="0" font-size="12.8" textLength="77.34" lengthAdjust="spacingAndGlyphs" fill="#111" stroke="#111" stroke-width="0.28">g__Alloprevotella</text>
<text transform="translate(1114.7 1844) rotate(-90)" x="-19.21" font-size="11" textLength="19.21" lengthAdjust="spacingAndGlyphs" fill="#111" stroke="#111" stroke-width="0.3">NC</text>
<text transform="translate(1255.4 1844) rotate(-90)" x="-17.73" font-size="11" textLength="17.73" lengthAdjust="spacingAndGlyphs" fill="#111" stroke="#111" stroke-width="0.3">HF</text>
<text transform="translate(1396.1 1844) rotate(-90)" x="-44.34" font-size="11" textLength="44.34" lengthAdjust="spacingAndGlyphs" fill="#111" stroke="#111" stroke-width="0.3">HF_NC</text>
<text transform="translate(1536.8 1844) rotate(-90)" x="-45.81" font-size="11" textLength="45.81" lengthAdjust="spacingAndGlyphs" fill="#111" stroke="#111" stroke-width="0.3">HF_MD</text>
<path d="M1038.7 1160.17H1036.4V1174.47H1038.7M1038.7 1188.78H1035.8V1203.08H1038.7M1036.4 1167.32H1032.8V1195.93H1035.8M1038.7 1145.86H1029.2V1181.62H1032.8M1038.7 1131.55H1021.7V1163.74H1029.2M1038.7 1231.7H1033.5V1246H1038.7M1038.7 1260.31H1025.8V1274.61H1038.7M1033.5 1238.85H1024.7V1267.46H1025.8M1038.7 1217.39H1016.7V1253.15H1024.7M1021.7 1147.65H1010.9V1235.27H1016.7M1038.7 1317.53H1037V1331.84H1038.7M1038.7 1303.23H1032.8V1324.68H1037M1038.7 1374.76H1037.2V1389.06H1038.7M1038.7 1360.45H1036.6V1381.91H1037.2M1038.7 1346.14H1035.6V1371.18H1036.6M1038.7 1417.67H1036.8V1431.98H1038.7M1038.7 1446.29H1037V1460.59H1038.7M1038.7 1474.9H1037V1489.2H1038.7M1037 1453.44H1035.8V1482.05H1037M1036.8 1424.83H1034.9V1467.74H1035.8M1038.7 1403.37H1033V1446.29H1034.9M1035.6 1358.66H1032.1V1424.83H1033M1032.8 1313.95H1022.3V1391.74H1032.1M1038.7 1288.92H1012.2V1352.85H1022.3M1038.7 1503.51H1037.3V1517.82H1038.7M1038.7 1532.12H1036.8V1546.43H1038.7M1037.3 1510.66H1034.8V1539.27H1036.8M1038.7 1560.73H1037V1575.04H1038.7M1038.7 1589.35H1036.8V1603.65H1038.7M1037 1567.89H1034.8V1596.5H1036.8M1034.8 1524.97H1031.5V1582.19H1034.8M1038.7 1632.26H1036.9V1646.57H1038.7M1038.7 1675.18H1035.8V1689.49H1038.7M1038.7 1660.88H1033.6V1682.33H1035.8M1036.9 1639.42H1031.4V1671.6H1033.6M1038.7 1617.96H1028.3V1655.51H1031.4M1031.5 1553.58H1022.8V1636.73H1028.3M1038.7 1718.1H1034.8V1732.41H1038.7M1038.7 1703.79H1031.9V1725.25H1034.8M1038.7 1761.02H1034.6V1775.32H1038.7M1038.7 1818.24H1037.2V1832.55H1038.7M1038.7 1803.93H1035.5V1825.39H1037.2M1038.7 1789.63H1032.2V1814.66H1035.5M1034.6 1768.17H1028.8V1802.15H1032.2M1038.7 1746.71H1023.5V1785.16H1028.8M1031.9 1714.52H1017V1765.93H1023.5M1022.8 1595.16H1000.6V1740.23H1017M1012.2 1320.88H989.2V1667.69H1000.6M1010.9 1191.46H988.6V1494.29H989.2" fill="none" stroke="#1a1a1a" stroke-width="1.25" stroke-linejoin="miter"/>
<defs><linearGradient id="gD" x1="0" y1="1" x2="0" y2="0">
<stop offset="0.15" stop-color="#4575b4"/>
<stop offset="0.27" stop-color="#91bfdb"/>
<stop offset="0.38" stop-color="#e0f3f8"/>
<stop offset="0.5" stop-color="#ffffbf"/>
<stop offset="0.62" stop-color="#fee090"/>
<stop offset="0.73" stop-color="#fc8d59"/>
<stop offset="0.85" stop-color="#d73027"/>
</linearGradient></defs>
<rect x="895.1" y="1450" width="11.8" height="81.8" fill="url(#gD)"/>
<text transform="translate(895.2 1442.7)" x="0" font-size="13.7" class="b" textLength="87.8" lengthAdjust="spacingAndGlyphs" fill="#111" stroke="#111" stroke-width="0.2">Scaled abundance</text>
<line x1="895.1" y1="1452.95" x2="897.5" y2="1452.95" stroke="#fff" stroke-width="1"/>
<line x1="904.5" y1="1452.95" x2="906.9" y2="1452.95" stroke="#fff" stroke-width="1"/>
<text transform="translate(909.2 1457.85)" x="0" font-size="13.6" textLength="5.6" lengthAdjust="spacingAndGlyphs" fill="#111" stroke="#111" stroke-width="0.35">2</text>
<line x1="895.1" y1="1471.95" x2="897.5" y2="1471.95" stroke="#fff" stroke-width="1"/>
<line x1="904.5" y1="1471.95" x2="906.9" y2="1471.95" stroke="#fff" stroke-width="1"/>
<text transform="translate(909.2 1476.85)" x="0" font-size="13.6" textLength="5.6" lengthAdjust="spacingAndGlyphs" fill="#111" stroke="#111" stroke-width="0.35">1</text>
<line x1="895.1" y1="1490.95" x2="897.5" y2="1490.95" stroke="#fff" stroke-width="1"/>
<line x1="904.5" y1="1490.95" x2="906.9" y2="1490.95" stroke="#fff" stroke-width="1"/>
<text transform="translate(909.2 1495.85)" x="0" font-size="13.6" textLength="5.6" lengthAdjust="spacingAndGlyphs" fill="#111" stroke="#111" stroke-width="0.35">0</text>
<line x1="895.1" y1="1509.95" x2="897.5" y2="1509.95" stroke="#fff" stroke-width="1"/>
<line x1="904.5" y1="1509.95" x2="906.9" y2="1509.95" stroke="#fff" stroke-width="1"/>
<text transform="translate(909.2 1514.85)" x="0" font-size="13.6" textLength="11.47" lengthAdjust="spacingAndGlyphs" fill="#111" stroke="#111" stroke-width="0.35">−1</text>
<line x1="895.1" y1="1528.95" x2="897.5" y2="1528.95" stroke="#fff" stroke-width="1"/>
<line x1="904.5" y1="1528.95" x2="906.9" y2="1528.95" stroke="#fff" stroke-width="1"/>
<text transform="translate(909.2 1533.85)" x="0" font-size="13.6" textLength="11.47" lengthAdjust="spacingAndGlyphs" fill="#111" stroke="#111" stroke-width="0.35">−2</text>
</g>
<text transform="translate(1331.5 1920.5)" x="-23.81" font-size="34.3" class="b s">(D)</text>
</svg>
</body></html>
